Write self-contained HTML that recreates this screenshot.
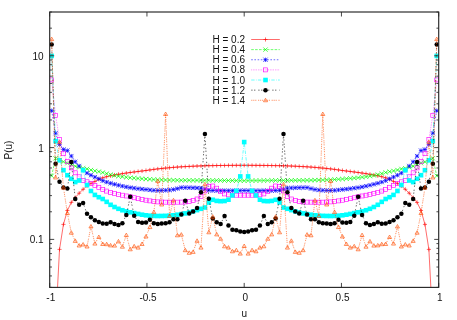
<!DOCTYPE html>
<html><head><meta charset="utf-8"><title>P(u)</title>
<style>html,body{margin:0;padding:0;background:#fff;overflow:hidden}body{width:457px;height:320px;font-family:"Liberation Sans",sans-serif}svg{display:block;will-change:transform}</style></head>
<body>
<svg width="457" height="320" viewBox="0 0 457 320">
<rect width="457" height="320" fill="#fff"/>
<defs><clipPath id="c"><rect x="49.7" y="12.0" width="389.0" height="275.4"/></clipPath></defs>
<g clip-path="url(#c)">
<path d="M55.59 325.00L59.52 249.40L63.45 224.40L67.38 210.50L71.31 202.40L75.24 197.60L79.17 193.20L83.10 189.30L87.03 186.00L90.96 183.40L94.89 181.40L98.82 179.40L102.75 177.80L106.67 176.69L110.60 175.79L114.53 175.00L118.46 174.29L122.39 173.65L126.32 173.06L130.25 172.50L134.18 171.97L138.11 171.48L142.04 171.00L145.97 170.50L149.90 169.95L153.83 169.39L157.76 168.90L161.68 168.49L165.61 168.10L169.54 167.73L173.47 167.39L177.40 167.09L181.33 166.82L185.26 166.60L189.19 166.41L193.12 166.23L197.05 166.06L200.98 165.92L204.91 165.79L208.84 165.68L212.77 165.60L216.69 165.54L220.62 165.48L224.55 165.44L228.48 165.40L232.41 165.37L236.34 165.34L240.27 165.32L244.20 165.30L248.13 165.32L252.06 165.34L255.99 165.37L259.92 165.40L263.85 165.44L267.78 165.48L271.71 165.54L275.63 165.60L279.56 165.68L283.49 165.79L287.42 165.92L291.35 166.06L295.28 166.23L299.21 166.41L303.14 166.60L307.07 166.82L311.00 167.09L314.93 167.39L318.86 167.73L322.79 168.10L326.72 168.49L330.64 168.90L334.57 169.39L338.50 169.95L342.43 170.50L346.36 171.00L350.29 171.48L354.22 171.97L358.15 172.50L362.08 173.06L366.01 173.65L369.94 174.29L373.87 175.00L377.80 175.79L381.73 176.69L385.65 177.80L389.58 179.40L393.51 181.40L397.44 183.40L401.37 186.00L405.30 189.30L409.23 193.20L413.16 197.60L417.09 202.40L421.02 210.50L424.95 224.40L428.88 249.40L432.81 325.00" fill="none" stroke="#ff0000" stroke-width="0.58"/>
<path d="M57.47 249.40H61.57M59.52 247.35V251.45" stroke="#ff0000" stroke-width="0.6" fill="none"/>
<path d="M61.40 224.40H65.50M63.45 222.35V226.45" stroke="#ff0000" stroke-width="0.6" fill="none"/>
<path d="M65.33 210.50H69.43M67.38 208.45V212.55" stroke="#ff0000" stroke-width="0.6" fill="none"/>
<path d="M69.26 202.40H73.36M71.31 200.35V204.45" stroke="#ff0000" stroke-width="0.6" fill="none"/>
<path d="M73.19 197.60H77.29M75.24 195.55V199.65" stroke="#ff0000" stroke-width="0.6" fill="none"/>
<path d="M77.12 193.20H81.22M79.17 191.15V195.25" stroke="#ff0000" stroke-width="0.6" fill="none"/>
<path d="M81.05 189.30H85.15M83.10 187.25V191.35" stroke="#ff0000" stroke-width="0.6" fill="none"/>
<path d="M84.98 186.00H89.08M87.03 183.95V188.05" stroke="#ff0000" stroke-width="0.6" fill="none"/>
<path d="M88.91 183.40H93.01M90.96 181.35V185.45" stroke="#ff0000" stroke-width="0.6" fill="none"/>
<path d="M92.84 181.40H96.94M94.89 179.35V183.45" stroke="#ff0000" stroke-width="0.6" fill="none"/>
<path d="M96.77 179.40H100.87M98.82 177.35V181.45" stroke="#ff0000" stroke-width="0.6" fill="none"/>
<path d="M100.70 177.80H104.80M102.75 175.75V179.85" stroke="#ff0000" stroke-width="0.6" fill="none"/>
<path d="M104.62 176.69H108.72M106.67 174.64V178.74" stroke="#ff0000" stroke-width="0.6" fill="none"/>
<path d="M108.55 175.79H112.65M110.60 173.74V177.84" stroke="#ff0000" stroke-width="0.6" fill="none"/>
<path d="M112.48 175.00H116.58M114.53 172.95V177.05" stroke="#ff0000" stroke-width="0.6" fill="none"/>
<path d="M116.41 174.29H120.51M118.46 172.24V176.34" stroke="#ff0000" stroke-width="0.6" fill="none"/>
<path d="M120.34 173.65H124.44M122.39 171.60V175.70" stroke="#ff0000" stroke-width="0.6" fill="none"/>
<path d="M124.27 173.06H128.37M126.32 171.01V175.11" stroke="#ff0000" stroke-width="0.6" fill="none"/>
<path d="M128.20 172.50H132.30M130.25 170.45V174.55" stroke="#ff0000" stroke-width="0.6" fill="none"/>
<path d="M132.13 171.97H136.23M134.18 169.92V174.02" stroke="#ff0000" stroke-width="0.6" fill="none"/>
<path d="M136.06 171.48H140.16M138.11 169.43V173.53" stroke="#ff0000" stroke-width="0.6" fill="none"/>
<path d="M139.99 171.00H144.09M142.04 168.95V173.05" stroke="#ff0000" stroke-width="0.6" fill="none"/>
<path d="M143.92 170.50H148.02M145.97 168.45V172.55" stroke="#ff0000" stroke-width="0.6" fill="none"/>
<path d="M147.85 169.95H151.95M149.90 167.90V172.00" stroke="#ff0000" stroke-width="0.6" fill="none"/>
<path d="M151.78 169.39H155.88M153.83 167.34V171.44" stroke="#ff0000" stroke-width="0.6" fill="none"/>
<path d="M155.71 168.90H159.81M157.76 166.85V170.95" stroke="#ff0000" stroke-width="0.6" fill="none"/>
<path d="M159.63 168.49H163.73M161.68 166.44V170.54" stroke="#ff0000" stroke-width="0.6" fill="none"/>
<path d="M163.56 168.10H167.66M165.61 166.05V170.15" stroke="#ff0000" stroke-width="0.6" fill="none"/>
<path d="M167.49 167.73H171.59M169.54 165.68V169.78" stroke="#ff0000" stroke-width="0.6" fill="none"/>
<path d="M171.42 167.39H175.52M173.47 165.34V169.44" stroke="#ff0000" stroke-width="0.6" fill="none"/>
<path d="M175.35 167.09H179.45M177.40 165.04V169.14" stroke="#ff0000" stroke-width="0.6" fill="none"/>
<path d="M179.28 166.82H183.38M181.33 164.77V168.87" stroke="#ff0000" stroke-width="0.6" fill="none"/>
<path d="M183.21 166.60H187.31M185.26 164.55V168.65" stroke="#ff0000" stroke-width="0.6" fill="none"/>
<path d="M187.14 166.41H191.24M189.19 164.36V168.46" stroke="#ff0000" stroke-width="0.6" fill="none"/>
<path d="M191.07 166.23H195.17M193.12 164.18V168.28" stroke="#ff0000" stroke-width="0.6" fill="none"/>
<path d="M195.00 166.06H199.10M197.05 164.01V168.11" stroke="#ff0000" stroke-width="0.6" fill="none"/>
<path d="M198.93 165.92H203.03M200.98 163.87V167.97" stroke="#ff0000" stroke-width="0.6" fill="none"/>
<path d="M202.86 165.79H206.96M204.91 163.74V167.84" stroke="#ff0000" stroke-width="0.6" fill="none"/>
<path d="M206.79 165.68H210.89M208.84 163.63V167.73" stroke="#ff0000" stroke-width="0.6" fill="none"/>
<path d="M210.72 165.60H214.82M212.77 163.55V167.65" stroke="#ff0000" stroke-width="0.6" fill="none"/>
<path d="M214.64 165.54H218.74M216.69 163.49V167.59" stroke="#ff0000" stroke-width="0.6" fill="none"/>
<path d="M218.57 165.48H222.67M220.62 163.43V167.53" stroke="#ff0000" stroke-width="0.6" fill="none"/>
<path d="M222.50 165.44H226.60M224.55 163.39V167.49" stroke="#ff0000" stroke-width="0.6" fill="none"/>
<path d="M226.43 165.40H230.53M228.48 163.35V167.45" stroke="#ff0000" stroke-width="0.6" fill="none"/>
<path d="M230.36 165.37H234.46M232.41 163.32V167.42" stroke="#ff0000" stroke-width="0.6" fill="none"/>
<path d="M234.29 165.34H238.39M236.34 163.29V167.39" stroke="#ff0000" stroke-width="0.6" fill="none"/>
<path d="M238.22 165.32H242.32M240.27 163.27V167.37" stroke="#ff0000" stroke-width="0.6" fill="none"/>
<path d="M242.15 165.30H246.25M244.20 163.25V167.35" stroke="#ff0000" stroke-width="0.6" fill="none"/>
<path d="M246.08 165.32H250.18M248.13 163.27V167.37" stroke="#ff0000" stroke-width="0.6" fill="none"/>
<path d="M250.01 165.34H254.11M252.06 163.29V167.39" stroke="#ff0000" stroke-width="0.6" fill="none"/>
<path d="M253.94 165.37H258.04M255.99 163.32V167.42" stroke="#ff0000" stroke-width="0.6" fill="none"/>
<path d="M257.87 165.40H261.97M259.92 163.35V167.45" stroke="#ff0000" stroke-width="0.6" fill="none"/>
<path d="M261.80 165.44H265.90M263.85 163.39V167.49" stroke="#ff0000" stroke-width="0.6" fill="none"/>
<path d="M265.73 165.48H269.83M267.78 163.43V167.53" stroke="#ff0000" stroke-width="0.6" fill="none"/>
<path d="M269.66 165.54H273.76M271.71 163.49V167.59" stroke="#ff0000" stroke-width="0.6" fill="none"/>
<path d="M273.58 165.60H277.68M275.63 163.55V167.65" stroke="#ff0000" stroke-width="0.6" fill="none"/>
<path d="M277.51 165.68H281.61M279.56 163.63V167.73" stroke="#ff0000" stroke-width="0.6" fill="none"/>
<path d="M281.44 165.79H285.54M283.49 163.74V167.84" stroke="#ff0000" stroke-width="0.6" fill="none"/>
<path d="M285.37 165.92H289.47M287.42 163.87V167.97" stroke="#ff0000" stroke-width="0.6" fill="none"/>
<path d="M289.30 166.06H293.40M291.35 164.01V168.11" stroke="#ff0000" stroke-width="0.6" fill="none"/>
<path d="M293.23 166.23H297.33M295.28 164.18V168.28" stroke="#ff0000" stroke-width="0.6" fill="none"/>
<path d="M297.16 166.41H301.26M299.21 164.36V168.46" stroke="#ff0000" stroke-width="0.6" fill="none"/>
<path d="M301.09 166.60H305.19M303.14 164.55V168.65" stroke="#ff0000" stroke-width="0.6" fill="none"/>
<path d="M305.02 166.82H309.12M307.07 164.77V168.87" stroke="#ff0000" stroke-width="0.6" fill="none"/>
<path d="M308.95 167.09H313.05M311.00 165.04V169.14" stroke="#ff0000" stroke-width="0.6" fill="none"/>
<path d="M312.88 167.39H316.98M314.93 165.34V169.44" stroke="#ff0000" stroke-width="0.6" fill="none"/>
<path d="M316.81 167.73H320.91M318.86 165.68V169.78" stroke="#ff0000" stroke-width="0.6" fill="none"/>
<path d="M320.74 168.10H324.84M322.79 166.05V170.15" stroke="#ff0000" stroke-width="0.6" fill="none"/>
<path d="M324.67 168.49H328.77M326.72 166.44V170.54" stroke="#ff0000" stroke-width="0.6" fill="none"/>
<path d="M328.59 168.90H332.69M330.64 166.85V170.95" stroke="#ff0000" stroke-width="0.6" fill="none"/>
<path d="M332.52 169.39H336.62M334.57 167.34V171.44" stroke="#ff0000" stroke-width="0.6" fill="none"/>
<path d="M336.45 169.95H340.55M338.50 167.90V172.00" stroke="#ff0000" stroke-width="0.6" fill="none"/>
<path d="M340.38 170.50H344.48M342.43 168.45V172.55" stroke="#ff0000" stroke-width="0.6" fill="none"/>
<path d="M344.31 171.00H348.41M346.36 168.95V173.05" stroke="#ff0000" stroke-width="0.6" fill="none"/>
<path d="M348.24 171.48H352.34M350.29 169.43V173.53" stroke="#ff0000" stroke-width="0.6" fill="none"/>
<path d="M352.17 171.97H356.27M354.22 169.92V174.02" stroke="#ff0000" stroke-width="0.6" fill="none"/>
<path d="M356.10 172.50H360.20M358.15 170.45V174.55" stroke="#ff0000" stroke-width="0.6" fill="none"/>
<path d="M360.03 173.06H364.13M362.08 171.01V175.11" stroke="#ff0000" stroke-width="0.6" fill="none"/>
<path d="M363.96 173.65H368.06M366.01 171.60V175.70" stroke="#ff0000" stroke-width="0.6" fill="none"/>
<path d="M367.89 174.29H371.99M369.94 172.24V176.34" stroke="#ff0000" stroke-width="0.6" fill="none"/>
<path d="M371.82 175.00H375.92M373.87 172.95V177.05" stroke="#ff0000" stroke-width="0.6" fill="none"/>
<path d="M375.75 175.79H379.85M377.80 173.74V177.84" stroke="#ff0000" stroke-width="0.6" fill="none"/>
<path d="M379.68 176.69H383.78M381.73 174.64V178.74" stroke="#ff0000" stroke-width="0.6" fill="none"/>
<path d="M383.60 177.80H387.70M385.65 175.75V179.85" stroke="#ff0000" stroke-width="0.6" fill="none"/>
<path d="M387.53 179.40H391.63M389.58 177.35V181.45" stroke="#ff0000" stroke-width="0.6" fill="none"/>
<path d="M391.46 181.40H395.56M393.51 179.35V183.45" stroke="#ff0000" stroke-width="0.6" fill="none"/>
<path d="M395.39 183.40H399.49M397.44 181.35V185.45" stroke="#ff0000" stroke-width="0.6" fill="none"/>
<path d="M399.32 186.00H403.42M401.37 183.95V188.05" stroke="#ff0000" stroke-width="0.6" fill="none"/>
<path d="M403.25 189.30H407.35M405.30 187.25V191.35" stroke="#ff0000" stroke-width="0.6" fill="none"/>
<path d="M407.18 193.20H411.28M409.23 191.15V195.25" stroke="#ff0000" stroke-width="0.6" fill="none"/>
<path d="M411.11 197.60H415.21M413.16 195.55V199.65" stroke="#ff0000" stroke-width="0.6" fill="none"/>
<path d="M415.04 202.40H419.14M417.09 200.35V204.45" stroke="#ff0000" stroke-width="0.6" fill="none"/>
<path d="M418.97 210.50H423.07M421.02 208.45V212.55" stroke="#ff0000" stroke-width="0.6" fill="none"/>
<path d="M422.90 224.40H427.00M424.95 222.35V226.45" stroke="#ff0000" stroke-width="0.6" fill="none"/>
<path d="M426.83 249.40H430.93M428.88 247.35V251.45" stroke="#ff0000" stroke-width="0.6" fill="none"/>
<path d="M51.66 175.80L55.59 158.30L59.52 160.00L63.45 161.80L67.38 163.20L71.31 164.40L75.24 166.20L79.17 167.40L83.10 168.30L87.03 168.90L90.96 170.00L94.89 170.90L98.82 171.60L102.75 172.50L106.67 173.54L110.60 174.61L114.53 175.50L118.46 176.17L122.39 176.76L126.32 177.26L130.25 177.70L134.18 178.08L138.11 178.42L142.04 178.72L145.97 179.00L149.90 179.27L153.83 179.52L157.76 179.70L161.68 179.83L165.61 179.95L169.54 180.05L173.47 180.14L177.40 180.21L181.33 180.27L185.26 180.30L189.19 180.32L193.12 180.34L197.05 180.35L200.98 180.36L204.91 180.37L208.84 180.38L212.77 180.40L216.69 180.42L220.62 180.45L224.55 180.48L228.48 180.52L232.41 180.56L236.34 180.60L240.27 180.65L244.20 180.70L248.13 180.65L252.06 180.60L255.99 180.56L259.92 180.52L263.85 180.48L267.78 180.45L271.71 180.42L275.63 180.40L279.56 180.38L283.49 180.37L287.42 180.36L291.35 180.35L295.28 180.34L299.21 180.32L303.14 180.30L307.07 180.27L311.00 180.21L314.93 180.14L318.86 180.05L322.79 179.95L326.72 179.83L330.64 179.70L334.57 179.52L338.50 179.27L342.43 179.00L346.36 178.72L350.29 178.42L354.22 178.08L358.15 177.70L362.08 177.26L366.01 176.76L369.94 176.17L373.87 175.50L377.80 174.61L381.73 173.54L385.65 172.50L389.58 171.60L393.51 170.90L397.44 170.00L401.37 168.90L405.30 168.30L409.23 167.40L413.16 166.20L417.09 164.40L421.02 163.20L424.95 161.80L428.88 160.00L432.81 158.30L436.74 175.80" fill="none" stroke="#00ff00" stroke-width="0.58" stroke-dasharray="2.6,1.3"/>
<path d="M49.51 173.65L53.81 177.95M49.51 177.95L53.81 173.65" stroke="#00ff00" stroke-width="0.68" fill="none"/>
<path d="M53.44 156.15L57.74 160.45M53.44 160.45L57.74 156.15" stroke="#00ff00" stroke-width="0.68" fill="none"/>
<path d="M57.37 157.85L61.67 162.15M57.37 162.15L61.67 157.85" stroke="#00ff00" stroke-width="0.68" fill="none"/>
<path d="M61.30 159.65L65.60 163.95M61.30 163.95L65.60 159.65" stroke="#00ff00" stroke-width="0.68" fill="none"/>
<path d="M65.23 161.05L69.53 165.35M65.23 165.35L69.53 161.05" stroke="#00ff00" stroke-width="0.68" fill="none"/>
<path d="M69.16 162.25L73.46 166.55M69.16 166.55L73.46 162.25" stroke="#00ff00" stroke-width="0.68" fill="none"/>
<path d="M73.09 164.05L77.39 168.35M73.09 168.35L77.39 164.05" stroke="#00ff00" stroke-width="0.68" fill="none"/>
<path d="M77.02 165.25L81.32 169.55M77.02 169.55L81.32 165.25" stroke="#00ff00" stroke-width="0.68" fill="none"/>
<path d="M80.95 166.15L85.25 170.45M80.95 170.45L85.25 166.15" stroke="#00ff00" stroke-width="0.68" fill="none"/>
<path d="M84.88 166.75L89.18 171.05M84.88 171.05L89.18 166.75" stroke="#00ff00" stroke-width="0.68" fill="none"/>
<path d="M88.81 167.85L93.11 172.15M88.81 172.15L93.11 167.85" stroke="#00ff00" stroke-width="0.68" fill="none"/>
<path d="M92.74 168.75L97.04 173.05M92.74 173.05L97.04 168.75" stroke="#00ff00" stroke-width="0.68" fill="none"/>
<path d="M96.67 169.45L100.97 173.75M96.67 173.75L100.97 169.45" stroke="#00ff00" stroke-width="0.68" fill="none"/>
<path d="M100.60 170.35L104.90 174.65M100.60 174.65L104.90 170.35" stroke="#00ff00" stroke-width="0.68" fill="none"/>
<path d="M104.52 171.39L108.82 175.69M104.52 175.69L108.82 171.39" stroke="#00ff00" stroke-width="0.68" fill="none"/>
<path d="M108.45 172.46L112.75 176.76M108.45 176.76L112.75 172.46" stroke="#00ff00" stroke-width="0.68" fill="none"/>
<path d="M112.38 173.35L116.68 177.65M112.38 177.65L116.68 173.35" stroke="#00ff00" stroke-width="0.68" fill="none"/>
<path d="M116.31 174.02L120.61 178.32M116.31 178.32L120.61 174.02" stroke="#00ff00" stroke-width="0.68" fill="none"/>
<path d="M120.24 174.61L124.54 178.91M120.24 178.91L124.54 174.61" stroke="#00ff00" stroke-width="0.68" fill="none"/>
<path d="M124.17 175.11L128.47 179.41M124.17 179.41L128.47 175.11" stroke="#00ff00" stroke-width="0.68" fill="none"/>
<path d="M128.10 175.55L132.40 179.85M128.10 179.85L132.40 175.55" stroke="#00ff00" stroke-width="0.68" fill="none"/>
<path d="M132.03 175.93L136.33 180.23M132.03 180.23L136.33 175.93" stroke="#00ff00" stroke-width="0.68" fill="none"/>
<path d="M135.96 176.27L140.26 180.57M135.96 180.57L140.26 176.27" stroke="#00ff00" stroke-width="0.68" fill="none"/>
<path d="M139.89 176.57L144.19 180.87M139.89 180.87L144.19 176.57" stroke="#00ff00" stroke-width="0.68" fill="none"/>
<path d="M143.82 176.85L148.12 181.15M143.82 181.15L148.12 176.85" stroke="#00ff00" stroke-width="0.68" fill="none"/>
<path d="M147.75 177.12L152.05 181.42M147.75 181.42L152.05 177.12" stroke="#00ff00" stroke-width="0.68" fill="none"/>
<path d="M151.68 177.37L155.98 181.67M151.68 181.67L155.98 177.37" stroke="#00ff00" stroke-width="0.68" fill="none"/>
<path d="M155.61 177.55L159.91 181.85M155.61 181.85L159.91 177.55" stroke="#00ff00" stroke-width="0.68" fill="none"/>
<path d="M159.53 177.68L163.83 181.98M159.53 181.98L163.83 177.68" stroke="#00ff00" stroke-width="0.68" fill="none"/>
<path d="M163.46 177.80L167.76 182.10M163.46 182.10L167.76 177.80" stroke="#00ff00" stroke-width="0.68" fill="none"/>
<path d="M167.39 177.90L171.69 182.20M167.39 182.20L171.69 177.90" stroke="#00ff00" stroke-width="0.68" fill="none"/>
<path d="M171.32 177.99L175.62 182.29M171.32 182.29L175.62 177.99" stroke="#00ff00" stroke-width="0.68" fill="none"/>
<path d="M175.25 178.06L179.55 182.36M175.25 182.36L179.55 178.06" stroke="#00ff00" stroke-width="0.68" fill="none"/>
<path d="M179.18 178.12L183.48 182.42M179.18 182.42L183.48 178.12" stroke="#00ff00" stroke-width="0.68" fill="none"/>
<path d="M183.11 178.15L187.41 182.45M183.11 182.45L187.41 178.15" stroke="#00ff00" stroke-width="0.68" fill="none"/>
<path d="M187.04 178.17L191.34 182.47M187.04 182.47L191.34 178.17" stroke="#00ff00" stroke-width="0.68" fill="none"/>
<path d="M190.97 178.19L195.27 182.49M190.97 182.49L195.27 178.19" stroke="#00ff00" stroke-width="0.68" fill="none"/>
<path d="M194.90 178.20L199.20 182.50M194.90 182.50L199.20 178.20" stroke="#00ff00" stroke-width="0.68" fill="none"/>
<path d="M198.83 178.21L203.13 182.51M198.83 182.51L203.13 178.21" stroke="#00ff00" stroke-width="0.68" fill="none"/>
<path d="M202.76 178.22L207.06 182.52M202.76 182.52L207.06 178.22" stroke="#00ff00" stroke-width="0.68" fill="none"/>
<path d="M206.69 178.23L210.99 182.53M206.69 182.53L210.99 178.23" stroke="#00ff00" stroke-width="0.68" fill="none"/>
<path d="M210.62 178.25L214.92 182.55M210.62 182.55L214.92 178.25" stroke="#00ff00" stroke-width="0.68" fill="none"/>
<path d="M214.54 178.27L218.84 182.57M214.54 182.57L218.84 178.27" stroke="#00ff00" stroke-width="0.68" fill="none"/>
<path d="M218.47 178.30L222.77 182.60M218.47 182.60L222.77 178.30" stroke="#00ff00" stroke-width="0.68" fill="none"/>
<path d="M222.40 178.33L226.70 182.63M222.40 182.63L226.70 178.33" stroke="#00ff00" stroke-width="0.68" fill="none"/>
<path d="M226.33 178.37L230.63 182.67M226.33 182.67L230.63 178.37" stroke="#00ff00" stroke-width="0.68" fill="none"/>
<path d="M230.26 178.41L234.56 182.71M230.26 182.71L234.56 178.41" stroke="#00ff00" stroke-width="0.68" fill="none"/>
<path d="M234.19 178.45L238.49 182.75M234.19 182.75L238.49 178.45" stroke="#00ff00" stroke-width="0.68" fill="none"/>
<path d="M238.12 178.50L242.42 182.80M238.12 182.80L242.42 178.50" stroke="#00ff00" stroke-width="0.68" fill="none"/>
<path d="M242.05 178.55L246.35 182.85M242.05 182.85L246.35 178.55" stroke="#00ff00" stroke-width="0.68" fill="none"/>
<path d="M245.98 178.50L250.28 182.80M245.98 182.80L250.28 178.50" stroke="#00ff00" stroke-width="0.68" fill="none"/>
<path d="M249.91 178.45L254.21 182.75M249.91 182.75L254.21 178.45" stroke="#00ff00" stroke-width="0.68" fill="none"/>
<path d="M253.84 178.41L258.14 182.71M253.84 182.71L258.14 178.41" stroke="#00ff00" stroke-width="0.68" fill="none"/>
<path d="M257.77 178.37L262.07 182.67M257.77 182.67L262.07 178.37" stroke="#00ff00" stroke-width="0.68" fill="none"/>
<path d="M261.70 178.33L266.00 182.63M261.70 182.63L266.00 178.33" stroke="#00ff00" stroke-width="0.68" fill="none"/>
<path d="M265.63 178.30L269.93 182.60M265.63 182.60L269.93 178.30" stroke="#00ff00" stroke-width="0.68" fill="none"/>
<path d="M269.56 178.27L273.86 182.57M269.56 182.57L273.86 178.27" stroke="#00ff00" stroke-width="0.68" fill="none"/>
<path d="M273.48 178.25L277.78 182.55M273.48 182.55L277.78 178.25" stroke="#00ff00" stroke-width="0.68" fill="none"/>
<path d="M277.41 178.23L281.71 182.53M277.41 182.53L281.71 178.23" stroke="#00ff00" stroke-width="0.68" fill="none"/>
<path d="M281.34 178.22L285.64 182.52M281.34 182.52L285.64 178.22" stroke="#00ff00" stroke-width="0.68" fill="none"/>
<path d="M285.27 178.21L289.57 182.51M285.27 182.51L289.57 178.21" stroke="#00ff00" stroke-width="0.68" fill="none"/>
<path d="M289.20 178.20L293.50 182.50M289.20 182.50L293.50 178.20" stroke="#00ff00" stroke-width="0.68" fill="none"/>
<path d="M293.13 178.19L297.43 182.49M293.13 182.49L297.43 178.19" stroke="#00ff00" stroke-width="0.68" fill="none"/>
<path d="M297.06 178.17L301.36 182.47M297.06 182.47L301.36 178.17" stroke="#00ff00" stroke-width="0.68" fill="none"/>
<path d="M300.99 178.15L305.29 182.45M300.99 182.45L305.29 178.15" stroke="#00ff00" stroke-width="0.68" fill="none"/>
<path d="M304.92 178.12L309.22 182.42M304.92 182.42L309.22 178.12" stroke="#00ff00" stroke-width="0.68" fill="none"/>
<path d="M308.85 178.06L313.15 182.36M308.85 182.36L313.15 178.06" stroke="#00ff00" stroke-width="0.68" fill="none"/>
<path d="M312.78 177.99L317.08 182.29M312.78 182.29L317.08 177.99" stroke="#00ff00" stroke-width="0.68" fill="none"/>
<path d="M316.71 177.90L321.01 182.20M316.71 182.20L321.01 177.90" stroke="#00ff00" stroke-width="0.68" fill="none"/>
<path d="M320.64 177.80L324.94 182.10M320.64 182.10L324.94 177.80" stroke="#00ff00" stroke-width="0.68" fill="none"/>
<path d="M324.57 177.68L328.87 181.98M324.57 181.98L328.87 177.68" stroke="#00ff00" stroke-width="0.68" fill="none"/>
<path d="M328.49 177.55L332.79 181.85M328.49 181.85L332.79 177.55" stroke="#00ff00" stroke-width="0.68" fill="none"/>
<path d="M332.42 177.37L336.72 181.67M332.42 181.67L336.72 177.37" stroke="#00ff00" stroke-width="0.68" fill="none"/>
<path d="M336.35 177.12L340.65 181.42M336.35 181.42L340.65 177.12" stroke="#00ff00" stroke-width="0.68" fill="none"/>
<path d="M340.28 176.85L344.58 181.15M340.28 181.15L344.58 176.85" stroke="#00ff00" stroke-width="0.68" fill="none"/>
<path d="M344.21 176.57L348.51 180.87M344.21 180.87L348.51 176.57" stroke="#00ff00" stroke-width="0.68" fill="none"/>
<path d="M348.14 176.27L352.44 180.57M348.14 180.57L352.44 176.27" stroke="#00ff00" stroke-width="0.68" fill="none"/>
<path d="M352.07 175.93L356.37 180.23M352.07 180.23L356.37 175.93" stroke="#00ff00" stroke-width="0.68" fill="none"/>
<path d="M356.00 175.55L360.30 179.85M356.00 179.85L360.30 175.55" stroke="#00ff00" stroke-width="0.68" fill="none"/>
<path d="M359.93 175.11L364.23 179.41M359.93 179.41L364.23 175.11" stroke="#00ff00" stroke-width="0.68" fill="none"/>
<path d="M363.86 174.61L368.16 178.91M363.86 178.91L368.16 174.61" stroke="#00ff00" stroke-width="0.68" fill="none"/>
<path d="M367.79 174.02L372.09 178.32M367.79 178.32L372.09 174.02" stroke="#00ff00" stroke-width="0.68" fill="none"/>
<path d="M371.72 173.35L376.02 177.65M371.72 177.65L376.02 173.35" stroke="#00ff00" stroke-width="0.68" fill="none"/>
<path d="M375.65 172.46L379.95 176.76M375.65 176.76L379.95 172.46" stroke="#00ff00" stroke-width="0.68" fill="none"/>
<path d="M379.58 171.39L383.88 175.69M379.58 175.69L383.88 171.39" stroke="#00ff00" stroke-width="0.68" fill="none"/>
<path d="M383.50 170.35L387.80 174.65M383.50 174.65L387.80 170.35" stroke="#00ff00" stroke-width="0.68" fill="none"/>
<path d="M387.43 169.45L391.73 173.75M387.43 173.75L391.73 169.45" stroke="#00ff00" stroke-width="0.68" fill="none"/>
<path d="M391.36 168.75L395.66 173.05M391.36 173.05L395.66 168.75" stroke="#00ff00" stroke-width="0.68" fill="none"/>
<path d="M395.29 167.85L399.59 172.15M395.29 172.15L399.59 167.85" stroke="#00ff00" stroke-width="0.68" fill="none"/>
<path d="M399.22 166.75L403.52 171.05M399.22 171.05L403.52 166.75" stroke="#00ff00" stroke-width="0.68" fill="none"/>
<path d="M403.15 166.15L407.45 170.45M403.15 170.45L407.45 166.15" stroke="#00ff00" stroke-width="0.68" fill="none"/>
<path d="M407.08 165.25L411.38 169.55M407.08 169.55L411.38 165.25" stroke="#00ff00" stroke-width="0.68" fill="none"/>
<path d="M411.01 164.05L415.31 168.35M411.01 168.35L415.31 164.05" stroke="#00ff00" stroke-width="0.68" fill="none"/>
<path d="M414.94 162.25L419.24 166.55M414.94 166.55L419.24 162.25" stroke="#00ff00" stroke-width="0.68" fill="none"/>
<path d="M418.87 161.05L423.17 165.35M418.87 165.35L423.17 161.05" stroke="#00ff00" stroke-width="0.68" fill="none"/>
<path d="M422.80 159.65L427.10 163.95M422.80 163.95L427.10 159.65" stroke="#00ff00" stroke-width="0.68" fill="none"/>
<path d="M426.73 157.85L431.03 162.15M426.73 162.15L431.03 157.85" stroke="#00ff00" stroke-width="0.68" fill="none"/>
<path d="M430.66 156.15L434.96 160.45M430.66 160.45L434.96 156.15" stroke="#00ff00" stroke-width="0.68" fill="none"/>
<path d="M434.59 173.65L438.89 177.95M434.59 177.95L438.89 173.65" stroke="#00ff00" stroke-width="0.68" fill="none"/>
<path d="M51.66 110.70L55.59 133.20L59.52 144.50L63.45 149.50L67.38 150.60L71.31 156.10L75.24 161.80L79.17 166.00L83.10 170.00L87.03 173.10L90.96 175.20L94.89 177.10L98.82 178.80L102.75 180.70L106.67 182.09L110.60 183.27L114.53 184.30L118.46 185.26L122.39 186.14L126.32 186.93L130.25 187.60L134.18 188.16L138.11 188.66L142.04 189.10L145.97 189.50L149.90 189.93L153.83 190.33L157.76 190.50L161.68 190.44L165.61 190.30L169.54 190.00L173.47 189.50L177.40 188.60L181.33 187.60L185.26 187.60L189.19 187.67L193.12 187.80L197.05 187.94L200.98 188.20L204.91 189.20L208.84 190.20L212.77 190.50L216.69 190.59L220.62 190.65L224.55 190.69L228.48 190.70L232.41 190.69L236.34 190.65L240.27 190.59L244.20 190.50L248.13 190.59L252.06 190.65L255.99 190.69L259.92 190.70L263.85 190.69L267.78 190.65L271.71 190.59L275.63 190.50L279.56 190.20L283.49 189.20L287.42 188.20L291.35 187.94L295.28 187.80L299.21 187.67L303.14 187.60L307.07 187.60L311.00 188.60L314.93 189.50L318.86 190.00L322.79 190.30L326.72 190.44L330.64 190.50L334.57 190.33L338.50 189.93L342.43 189.50L346.36 189.10L350.29 188.66L354.22 188.16L358.15 187.60L362.08 186.93L366.01 186.14L369.94 185.26L373.87 184.30L377.80 183.27L381.73 182.09L385.65 180.70L389.58 178.80L393.51 177.10L397.44 175.20L401.37 173.10L405.30 170.00L409.23 166.00L413.16 161.80L417.09 156.10L421.02 150.60L424.95 149.50L428.88 144.50L432.81 133.20L436.74 110.70" fill="none" stroke="#0000ff" stroke-width="0.58" stroke-dasharray="1.6,1.6"/>
<path d="M49.51 108.55L53.81 112.85M49.51 112.85L53.81 108.55M49.51 110.70H53.81M51.66 108.55V112.85" stroke="#0000ff" stroke-width="0.7" fill="none"/>
<path d="M53.44 131.05L57.74 135.35M53.44 135.35L57.74 131.05M53.44 133.20H57.74M55.59 131.05V135.35" stroke="#0000ff" stroke-width="0.7" fill="none"/>
<path d="M57.37 142.35L61.67 146.65M57.37 146.65L61.67 142.35M57.37 144.50H61.67M59.52 142.35V146.65" stroke="#0000ff" stroke-width="0.7" fill="none"/>
<path d="M61.30 147.35L65.60 151.65M61.30 151.65L65.60 147.35M61.30 149.50H65.60M63.45 147.35V151.65" stroke="#0000ff" stroke-width="0.7" fill="none"/>
<path d="M65.23 148.45L69.53 152.75M65.23 152.75L69.53 148.45M65.23 150.60H69.53M67.38 148.45V152.75" stroke="#0000ff" stroke-width="0.7" fill="none"/>
<path d="M69.16 153.95L73.46 158.25M69.16 158.25L73.46 153.95M69.16 156.10H73.46M71.31 153.95V158.25" stroke="#0000ff" stroke-width="0.7" fill="none"/>
<path d="M73.09 159.65L77.39 163.95M73.09 163.95L77.39 159.65M73.09 161.80H77.39M75.24 159.65V163.95" stroke="#0000ff" stroke-width="0.7" fill="none"/>
<path d="M77.02 163.85L81.32 168.15M77.02 168.15L81.32 163.85M77.02 166.00H81.32M79.17 163.85V168.15" stroke="#0000ff" stroke-width="0.7" fill="none"/>
<path d="M80.95 167.85L85.25 172.15M80.95 172.15L85.25 167.85M80.95 170.00H85.25M83.10 167.85V172.15" stroke="#0000ff" stroke-width="0.7" fill="none"/>
<path d="M84.88 170.95L89.18 175.25M84.88 175.25L89.18 170.95M84.88 173.10H89.18M87.03 170.95V175.25" stroke="#0000ff" stroke-width="0.7" fill="none"/>
<path d="M88.81 173.05L93.11 177.35M88.81 177.35L93.11 173.05M88.81 175.20H93.11M90.96 173.05V177.35" stroke="#0000ff" stroke-width="0.7" fill="none"/>
<path d="M92.74 174.95L97.04 179.25M92.74 179.25L97.04 174.95M92.74 177.10H97.04M94.89 174.95V179.25" stroke="#0000ff" stroke-width="0.7" fill="none"/>
<path d="M96.67 176.65L100.97 180.95M96.67 180.95L100.97 176.65M96.67 178.80H100.97M98.82 176.65V180.95" stroke="#0000ff" stroke-width="0.7" fill="none"/>
<path d="M100.60 178.55L104.90 182.85M100.60 182.85L104.90 178.55M100.60 180.70H104.90M102.75 178.55V182.85" stroke="#0000ff" stroke-width="0.7" fill="none"/>
<path d="M104.52 179.94L108.82 184.24M104.52 184.24L108.82 179.94M104.52 182.09H108.82M106.67 179.94V184.24" stroke="#0000ff" stroke-width="0.7" fill="none"/>
<path d="M108.45 181.12L112.75 185.42M108.45 185.42L112.75 181.12M108.45 183.27H112.75M110.60 181.12V185.42" stroke="#0000ff" stroke-width="0.7" fill="none"/>
<path d="M112.38 182.15L116.68 186.45M112.38 186.45L116.68 182.15M112.38 184.30H116.68M114.53 182.15V186.45" stroke="#0000ff" stroke-width="0.7" fill="none"/>
<path d="M116.31 183.11L120.61 187.41M116.31 187.41L120.61 183.11M116.31 185.26H120.61M118.46 183.11V187.41" stroke="#0000ff" stroke-width="0.7" fill="none"/>
<path d="M120.24 183.99L124.54 188.29M120.24 188.29L124.54 183.99M120.24 186.14H124.54M122.39 183.99V188.29" stroke="#0000ff" stroke-width="0.7" fill="none"/>
<path d="M124.17 184.78L128.47 189.08M124.17 189.08L128.47 184.78M124.17 186.93H128.47M126.32 184.78V189.08" stroke="#0000ff" stroke-width="0.7" fill="none"/>
<path d="M128.10 185.45L132.40 189.75M128.10 189.75L132.40 185.45M128.10 187.60H132.40M130.25 185.45V189.75" stroke="#0000ff" stroke-width="0.7" fill="none"/>
<path d="M132.03 186.01L136.33 190.31M132.03 190.31L136.33 186.01M132.03 188.16H136.33M134.18 186.01V190.31" stroke="#0000ff" stroke-width="0.7" fill="none"/>
<path d="M135.96 186.51L140.26 190.81M135.96 190.81L140.26 186.51M135.96 188.66H140.26M138.11 186.51V190.81" stroke="#0000ff" stroke-width="0.7" fill="none"/>
<path d="M139.89 186.95L144.19 191.25M139.89 191.25L144.19 186.95M139.89 189.10H144.19M142.04 186.95V191.25" stroke="#0000ff" stroke-width="0.7" fill="none"/>
<path d="M143.82 187.35L148.12 191.65M143.82 191.65L148.12 187.35M143.82 189.50H148.12M145.97 187.35V191.65" stroke="#0000ff" stroke-width="0.7" fill="none"/>
<path d="M147.75 187.78L152.05 192.08M147.75 192.08L152.05 187.78M147.75 189.93H152.05M149.90 187.78V192.08" stroke="#0000ff" stroke-width="0.7" fill="none"/>
<path d="M151.68 188.18L155.98 192.48M151.68 192.48L155.98 188.18M151.68 190.33H155.98M153.83 188.18V192.48" stroke="#0000ff" stroke-width="0.7" fill="none"/>
<path d="M155.61 188.35L159.91 192.65M155.61 192.65L159.91 188.35M155.61 190.50H159.91M157.76 188.35V192.65" stroke="#0000ff" stroke-width="0.7" fill="none"/>
<path d="M159.53 188.29L163.83 192.59M159.53 192.59L163.83 188.29M159.53 190.44H163.83M161.68 188.29V192.59" stroke="#0000ff" stroke-width="0.7" fill="none"/>
<path d="M163.46 188.15L167.76 192.45M163.46 192.45L167.76 188.15M163.46 190.30H167.76M165.61 188.15V192.45" stroke="#0000ff" stroke-width="0.7" fill="none"/>
<path d="M167.39 187.85L171.69 192.15M167.39 192.15L171.69 187.85M167.39 190.00H171.69M169.54 187.85V192.15" stroke="#0000ff" stroke-width="0.7" fill="none"/>
<path d="M171.32 187.35L175.62 191.65M171.32 191.65L175.62 187.35M171.32 189.50H175.62M173.47 187.35V191.65" stroke="#0000ff" stroke-width="0.7" fill="none"/>
<path d="M175.25 186.45L179.55 190.75M175.25 190.75L179.55 186.45M175.25 188.60H179.55M177.40 186.45V190.75" stroke="#0000ff" stroke-width="0.7" fill="none"/>
<path d="M179.18 185.45L183.48 189.75M179.18 189.75L183.48 185.45M179.18 187.60H183.48M181.33 185.45V189.75" stroke="#0000ff" stroke-width="0.7" fill="none"/>
<path d="M183.11 185.45L187.41 189.75M183.11 189.75L187.41 185.45M183.11 187.60H187.41M185.26 185.45V189.75" stroke="#0000ff" stroke-width="0.7" fill="none"/>
<path d="M187.04 185.52L191.34 189.82M187.04 189.82L191.34 185.52M187.04 187.67H191.34M189.19 185.52V189.82" stroke="#0000ff" stroke-width="0.7" fill="none"/>
<path d="M190.97 185.65L195.27 189.95M190.97 189.95L195.27 185.65M190.97 187.80H195.27M193.12 185.65V189.95" stroke="#0000ff" stroke-width="0.7" fill="none"/>
<path d="M194.90 185.79L199.20 190.09M194.90 190.09L199.20 185.79M194.90 187.94H199.20M197.05 185.79V190.09" stroke="#0000ff" stroke-width="0.7" fill="none"/>
<path d="M198.83 186.05L203.13 190.35M198.83 190.35L203.13 186.05M198.83 188.20H203.13M200.98 186.05V190.35" stroke="#0000ff" stroke-width="0.7" fill="none"/>
<path d="M202.76 187.05L207.06 191.35M202.76 191.35L207.06 187.05M202.76 189.20H207.06M204.91 187.05V191.35" stroke="#0000ff" stroke-width="0.7" fill="none"/>
<path d="M206.69 188.05L210.99 192.35M206.69 192.35L210.99 188.05M206.69 190.20H210.99M208.84 188.05V192.35" stroke="#0000ff" stroke-width="0.7" fill="none"/>
<path d="M210.62 188.35L214.92 192.65M210.62 192.65L214.92 188.35M210.62 190.50H214.92M212.77 188.35V192.65" stroke="#0000ff" stroke-width="0.7" fill="none"/>
<path d="M214.54 188.44L218.84 192.74M214.54 192.74L218.84 188.44M214.54 190.59H218.84M216.69 188.44V192.74" stroke="#0000ff" stroke-width="0.7" fill="none"/>
<path d="M218.47 188.50L222.77 192.80M218.47 192.80L222.77 188.50M218.47 190.65H222.77M220.62 188.50V192.80" stroke="#0000ff" stroke-width="0.7" fill="none"/>
<path d="M222.40 188.54L226.70 192.84M222.40 192.84L226.70 188.54M222.40 190.69H226.70M224.55 188.54V192.84" stroke="#0000ff" stroke-width="0.7" fill="none"/>
<path d="M226.33 188.55L230.63 192.85M226.33 192.85L230.63 188.55M226.33 190.70H230.63M228.48 188.55V192.85" stroke="#0000ff" stroke-width="0.7" fill="none"/>
<path d="M230.26 188.54L234.56 192.84M230.26 192.84L234.56 188.54M230.26 190.69H234.56M232.41 188.54V192.84" stroke="#0000ff" stroke-width="0.7" fill="none"/>
<path d="M234.19 188.50L238.49 192.80M234.19 192.80L238.49 188.50M234.19 190.65H238.49M236.34 188.50V192.80" stroke="#0000ff" stroke-width="0.7" fill="none"/>
<path d="M238.12 188.44L242.42 192.74M238.12 192.74L242.42 188.44M238.12 190.59H242.42M240.27 188.44V192.74" stroke="#0000ff" stroke-width="0.7" fill="none"/>
<path d="M242.05 188.35L246.35 192.65M242.05 192.65L246.35 188.35M242.05 190.50H246.35M244.20 188.35V192.65" stroke="#0000ff" stroke-width="0.7" fill="none"/>
<path d="M245.98 188.44L250.28 192.74M245.98 192.74L250.28 188.44M245.98 190.59H250.28M248.13 188.44V192.74" stroke="#0000ff" stroke-width="0.7" fill="none"/>
<path d="M249.91 188.50L254.21 192.80M249.91 192.80L254.21 188.50M249.91 190.65H254.21M252.06 188.50V192.80" stroke="#0000ff" stroke-width="0.7" fill="none"/>
<path d="M253.84 188.54L258.14 192.84M253.84 192.84L258.14 188.54M253.84 190.69H258.14M255.99 188.54V192.84" stroke="#0000ff" stroke-width="0.7" fill="none"/>
<path d="M257.77 188.55L262.07 192.85M257.77 192.85L262.07 188.55M257.77 190.70H262.07M259.92 188.55V192.85" stroke="#0000ff" stroke-width="0.7" fill="none"/>
<path d="M261.70 188.54L266.00 192.84M261.70 192.84L266.00 188.54M261.70 190.69H266.00M263.85 188.54V192.84" stroke="#0000ff" stroke-width="0.7" fill="none"/>
<path d="M265.63 188.50L269.93 192.80M265.63 192.80L269.93 188.50M265.63 190.65H269.93M267.78 188.50V192.80" stroke="#0000ff" stroke-width="0.7" fill="none"/>
<path d="M269.56 188.44L273.86 192.74M269.56 192.74L273.86 188.44M269.56 190.59H273.86M271.71 188.44V192.74" stroke="#0000ff" stroke-width="0.7" fill="none"/>
<path d="M273.48 188.35L277.78 192.65M273.48 192.65L277.78 188.35M273.48 190.50H277.78M275.63 188.35V192.65" stroke="#0000ff" stroke-width="0.7" fill="none"/>
<path d="M277.41 188.05L281.71 192.35M277.41 192.35L281.71 188.05M277.41 190.20H281.71M279.56 188.05V192.35" stroke="#0000ff" stroke-width="0.7" fill="none"/>
<path d="M281.34 187.05L285.64 191.35M281.34 191.35L285.64 187.05M281.34 189.20H285.64M283.49 187.05V191.35" stroke="#0000ff" stroke-width="0.7" fill="none"/>
<path d="M285.27 186.05L289.57 190.35M285.27 190.35L289.57 186.05M285.27 188.20H289.57M287.42 186.05V190.35" stroke="#0000ff" stroke-width="0.7" fill="none"/>
<path d="M289.20 185.79L293.50 190.09M289.20 190.09L293.50 185.79M289.20 187.94H293.50M291.35 185.79V190.09" stroke="#0000ff" stroke-width="0.7" fill="none"/>
<path d="M293.13 185.65L297.43 189.95M293.13 189.95L297.43 185.65M293.13 187.80H297.43M295.28 185.65V189.95" stroke="#0000ff" stroke-width="0.7" fill="none"/>
<path d="M297.06 185.52L301.36 189.82M297.06 189.82L301.36 185.52M297.06 187.67H301.36M299.21 185.52V189.82" stroke="#0000ff" stroke-width="0.7" fill="none"/>
<path d="M300.99 185.45L305.29 189.75M300.99 189.75L305.29 185.45M300.99 187.60H305.29M303.14 185.45V189.75" stroke="#0000ff" stroke-width="0.7" fill="none"/>
<path d="M304.92 185.45L309.22 189.75M304.92 189.75L309.22 185.45M304.92 187.60H309.22M307.07 185.45V189.75" stroke="#0000ff" stroke-width="0.7" fill="none"/>
<path d="M308.85 186.45L313.15 190.75M308.85 190.75L313.15 186.45M308.85 188.60H313.15M311.00 186.45V190.75" stroke="#0000ff" stroke-width="0.7" fill="none"/>
<path d="M312.78 187.35L317.08 191.65M312.78 191.65L317.08 187.35M312.78 189.50H317.08M314.93 187.35V191.65" stroke="#0000ff" stroke-width="0.7" fill="none"/>
<path d="M316.71 187.85L321.01 192.15M316.71 192.15L321.01 187.85M316.71 190.00H321.01M318.86 187.85V192.15" stroke="#0000ff" stroke-width="0.7" fill="none"/>
<path d="M320.64 188.15L324.94 192.45M320.64 192.45L324.94 188.15M320.64 190.30H324.94M322.79 188.15V192.45" stroke="#0000ff" stroke-width="0.7" fill="none"/>
<path d="M324.57 188.29L328.87 192.59M324.57 192.59L328.87 188.29M324.57 190.44H328.87M326.72 188.29V192.59" stroke="#0000ff" stroke-width="0.7" fill="none"/>
<path d="M328.49 188.35L332.79 192.65M328.49 192.65L332.79 188.35M328.49 190.50H332.79M330.64 188.35V192.65" stroke="#0000ff" stroke-width="0.7" fill="none"/>
<path d="M332.42 188.18L336.72 192.48M332.42 192.48L336.72 188.18M332.42 190.33H336.72M334.57 188.18V192.48" stroke="#0000ff" stroke-width="0.7" fill="none"/>
<path d="M336.35 187.78L340.65 192.08M336.35 192.08L340.65 187.78M336.35 189.93H340.65M338.50 187.78V192.08" stroke="#0000ff" stroke-width="0.7" fill="none"/>
<path d="M340.28 187.35L344.58 191.65M340.28 191.65L344.58 187.35M340.28 189.50H344.58M342.43 187.35V191.65" stroke="#0000ff" stroke-width="0.7" fill="none"/>
<path d="M344.21 186.95L348.51 191.25M344.21 191.25L348.51 186.95M344.21 189.10H348.51M346.36 186.95V191.25" stroke="#0000ff" stroke-width="0.7" fill="none"/>
<path d="M348.14 186.51L352.44 190.81M348.14 190.81L352.44 186.51M348.14 188.66H352.44M350.29 186.51V190.81" stroke="#0000ff" stroke-width="0.7" fill="none"/>
<path d="M352.07 186.01L356.37 190.31M352.07 190.31L356.37 186.01M352.07 188.16H356.37M354.22 186.01V190.31" stroke="#0000ff" stroke-width="0.7" fill="none"/>
<path d="M356.00 185.45L360.30 189.75M356.00 189.75L360.30 185.45M356.00 187.60H360.30M358.15 185.45V189.75" stroke="#0000ff" stroke-width="0.7" fill="none"/>
<path d="M359.93 184.78L364.23 189.08M359.93 189.08L364.23 184.78M359.93 186.93H364.23M362.08 184.78V189.08" stroke="#0000ff" stroke-width="0.7" fill="none"/>
<path d="M363.86 183.99L368.16 188.29M363.86 188.29L368.16 183.99M363.86 186.14H368.16M366.01 183.99V188.29" stroke="#0000ff" stroke-width="0.7" fill="none"/>
<path d="M367.79 183.11L372.09 187.41M367.79 187.41L372.09 183.11M367.79 185.26H372.09M369.94 183.11V187.41" stroke="#0000ff" stroke-width="0.7" fill="none"/>
<path d="M371.72 182.15L376.02 186.45M371.72 186.45L376.02 182.15M371.72 184.30H376.02M373.87 182.15V186.45" stroke="#0000ff" stroke-width="0.7" fill="none"/>
<path d="M375.65 181.12L379.95 185.42M375.65 185.42L379.95 181.12M375.65 183.27H379.95M377.80 181.12V185.42" stroke="#0000ff" stroke-width="0.7" fill="none"/>
<path d="M379.58 179.94L383.88 184.24M379.58 184.24L383.88 179.94M379.58 182.09H383.88M381.73 179.94V184.24" stroke="#0000ff" stroke-width="0.7" fill="none"/>
<path d="M383.50 178.55L387.80 182.85M383.50 182.85L387.80 178.55M383.50 180.70H387.80M385.65 178.55V182.85" stroke="#0000ff" stroke-width="0.7" fill="none"/>
<path d="M387.43 176.65L391.73 180.95M387.43 180.95L391.73 176.65M387.43 178.80H391.73M389.58 176.65V180.95" stroke="#0000ff" stroke-width="0.7" fill="none"/>
<path d="M391.36 174.95L395.66 179.25M391.36 179.25L395.66 174.95M391.36 177.10H395.66M393.51 174.95V179.25" stroke="#0000ff" stroke-width="0.7" fill="none"/>
<path d="M395.29 173.05L399.59 177.35M395.29 177.35L399.59 173.05M395.29 175.20H399.59M397.44 173.05V177.35" stroke="#0000ff" stroke-width="0.7" fill="none"/>
<path d="M399.22 170.95L403.52 175.25M399.22 175.25L403.52 170.95M399.22 173.10H403.52M401.37 170.95V175.25" stroke="#0000ff" stroke-width="0.7" fill="none"/>
<path d="M403.15 167.85L407.45 172.15M403.15 172.15L407.45 167.85M403.15 170.00H407.45M405.30 167.85V172.15" stroke="#0000ff" stroke-width="0.7" fill="none"/>
<path d="M407.08 163.85L411.38 168.15M407.08 168.15L411.38 163.85M407.08 166.00H411.38M409.23 163.85V168.15" stroke="#0000ff" stroke-width="0.7" fill="none"/>
<path d="M411.01 159.65L415.31 163.95M411.01 163.95L415.31 159.65M411.01 161.80H415.31M413.16 159.65V163.95" stroke="#0000ff" stroke-width="0.7" fill="none"/>
<path d="M414.94 153.95L419.24 158.25M414.94 158.25L419.24 153.95M414.94 156.10H419.24M417.09 153.95V158.25" stroke="#0000ff" stroke-width="0.7" fill="none"/>
<path d="M418.87 148.45L423.17 152.75M418.87 152.75L423.17 148.45M418.87 150.60H423.17M421.02 148.45V152.75" stroke="#0000ff" stroke-width="0.7" fill="none"/>
<path d="M422.80 147.35L427.10 151.65M422.80 151.65L427.10 147.35M422.80 149.50H427.10M424.95 147.35V151.65" stroke="#0000ff" stroke-width="0.7" fill="none"/>
<path d="M426.73 142.35L431.03 146.65M426.73 146.65L431.03 142.35M426.73 144.50H431.03M428.88 142.35V146.65" stroke="#0000ff" stroke-width="0.7" fill="none"/>
<path d="M430.66 131.05L434.96 135.35M430.66 135.35L434.96 131.05M430.66 133.20H434.96M432.81 131.05V135.35" stroke="#0000ff" stroke-width="0.7" fill="none"/>
<path d="M434.59 108.55L438.89 112.85M434.59 112.85L438.89 108.55M434.59 110.70H438.89M436.74 108.55V112.85" stroke="#0000ff" stroke-width="0.7" fill="none"/>
<path d="M51.66 79.90L55.59 115.30L59.52 139.50L63.45 153.70L67.38 161.40L71.31 167.90L75.24 172.80L79.17 176.80L83.10 180.50L87.03 181.80L90.96 183.50L94.89 185.30L98.82 187.30L102.75 189.50L106.67 191.08L110.60 192.39L114.53 193.50L118.46 194.43L122.39 195.22L126.32 195.98L130.25 196.80L134.18 197.76L138.11 198.70L142.04 199.50L145.97 200.20L149.90 200.89L153.83 201.53L157.76 201.90L161.68 202.05L165.61 202.16L169.54 202.20L173.47 202.19L177.40 202.15L181.33 202.10L185.26 201.94L189.19 201.60L193.12 200.60L197.05 199.00L200.98 196.60L204.91 190.90L208.84 186.50L212.77 186.00L216.69 188.20L220.62 191.50L224.55 193.90L228.48 194.80L232.41 195.10L236.34 195.20L240.27 195.20L244.20 195.20L248.13 195.20L252.06 195.20L255.99 195.10L259.92 194.80L263.85 193.90L267.78 191.50L271.71 188.20L275.63 186.00L279.56 186.50L283.49 190.90L287.42 196.60L291.35 199.00L295.28 200.60L299.21 201.60L303.14 201.94L307.07 202.10L311.00 202.15L314.93 202.19L318.86 202.20L322.79 202.16L326.72 202.05L330.64 201.90L334.57 201.53L338.50 200.89L342.43 200.20L346.36 199.50L350.29 198.70L354.22 197.76L358.15 196.80L362.08 195.98L366.01 195.22L369.94 194.43L373.87 193.50L377.80 192.39L381.73 191.08L385.65 189.50L389.58 187.30L393.51 185.30L397.44 183.50L401.37 181.80L405.30 180.50L409.23 176.80L413.16 172.80L417.09 167.90L421.02 161.40L424.95 153.70L428.88 139.50L432.81 115.30L436.74 79.90" fill="none" stroke="#ff00ff" stroke-width="0.58" stroke-dasharray="0.7,1.0"/>
<rect x="49.66" y="77.90" width="4.0" height="4.0" stroke="#ff00ff" stroke-width="0.64" fill="none"/>
<rect x="53.59" y="113.30" width="4.0" height="4.0" stroke="#ff00ff" stroke-width="0.64" fill="none"/>
<rect x="57.52" y="137.50" width="4.0" height="4.0" stroke="#ff00ff" stroke-width="0.64" fill="none"/>
<rect x="61.45" y="151.70" width="4.0" height="4.0" stroke="#ff00ff" stroke-width="0.64" fill="none"/>
<rect x="65.38" y="159.40" width="4.0" height="4.0" stroke="#ff00ff" stroke-width="0.64" fill="none"/>
<rect x="69.31" y="165.90" width="4.0" height="4.0" stroke="#ff00ff" stroke-width="0.64" fill="none"/>
<rect x="73.24" y="170.80" width="4.0" height="4.0" stroke="#ff00ff" stroke-width="0.64" fill="none"/>
<rect x="77.17" y="174.80" width="4.0" height="4.0" stroke="#ff00ff" stroke-width="0.64" fill="none"/>
<rect x="81.10" y="178.50" width="4.0" height="4.0" stroke="#ff00ff" stroke-width="0.64" fill="none"/>
<rect x="85.03" y="179.80" width="4.0" height="4.0" stroke="#ff00ff" stroke-width="0.64" fill="none"/>
<rect x="88.96" y="181.50" width="4.0" height="4.0" stroke="#ff00ff" stroke-width="0.64" fill="none"/>
<rect x="92.89" y="183.30" width="4.0" height="4.0" stroke="#ff00ff" stroke-width="0.64" fill="none"/>
<rect x="96.82" y="185.30" width="4.0" height="4.0" stroke="#ff00ff" stroke-width="0.64" fill="none"/>
<rect x="100.75" y="187.50" width="4.0" height="4.0" stroke="#ff00ff" stroke-width="0.64" fill="none"/>
<rect x="104.67" y="189.08" width="4.0" height="4.0" stroke="#ff00ff" stroke-width="0.64" fill="none"/>
<rect x="108.60" y="190.39" width="4.0" height="4.0" stroke="#ff00ff" stroke-width="0.64" fill="none"/>
<rect x="112.53" y="191.50" width="4.0" height="4.0" stroke="#ff00ff" stroke-width="0.64" fill="none"/>
<rect x="116.46" y="192.43" width="4.0" height="4.0" stroke="#ff00ff" stroke-width="0.64" fill="none"/>
<rect x="120.39" y="193.22" width="4.0" height="4.0" stroke="#ff00ff" stroke-width="0.64" fill="none"/>
<rect x="124.32" y="193.98" width="4.0" height="4.0" stroke="#ff00ff" stroke-width="0.64" fill="none"/>
<rect x="128.25" y="194.80" width="4.0" height="4.0" stroke="#ff00ff" stroke-width="0.64" fill="none"/>
<rect x="132.18" y="195.76" width="4.0" height="4.0" stroke="#ff00ff" stroke-width="0.64" fill="none"/>
<rect x="136.11" y="196.70" width="4.0" height="4.0" stroke="#ff00ff" stroke-width="0.64" fill="none"/>
<rect x="140.04" y="197.50" width="4.0" height="4.0" stroke="#ff00ff" stroke-width="0.64" fill="none"/>
<rect x="143.97" y="198.20" width="4.0" height="4.0" stroke="#ff00ff" stroke-width="0.64" fill="none"/>
<rect x="147.90" y="198.89" width="4.0" height="4.0" stroke="#ff00ff" stroke-width="0.64" fill="none"/>
<rect x="151.83" y="199.53" width="4.0" height="4.0" stroke="#ff00ff" stroke-width="0.64" fill="none"/>
<rect x="155.76" y="199.90" width="4.0" height="4.0" stroke="#ff00ff" stroke-width="0.64" fill="none"/>
<rect x="159.68" y="200.05" width="4.0" height="4.0" stroke="#ff00ff" stroke-width="0.64" fill="none"/>
<rect x="163.61" y="200.16" width="4.0" height="4.0" stroke="#ff00ff" stroke-width="0.64" fill="none"/>
<rect x="167.54" y="200.20" width="4.0" height="4.0" stroke="#ff00ff" stroke-width="0.64" fill="none"/>
<rect x="171.47" y="200.19" width="4.0" height="4.0" stroke="#ff00ff" stroke-width="0.64" fill="none"/>
<rect x="175.40" y="200.15" width="4.0" height="4.0" stroke="#ff00ff" stroke-width="0.64" fill="none"/>
<rect x="179.33" y="200.10" width="4.0" height="4.0" stroke="#ff00ff" stroke-width="0.64" fill="none"/>
<rect x="183.26" y="199.94" width="4.0" height="4.0" stroke="#ff00ff" stroke-width="0.64" fill="none"/>
<rect x="187.19" y="199.60" width="4.0" height="4.0" stroke="#ff00ff" stroke-width="0.64" fill="none"/>
<rect x="191.12" y="198.60" width="4.0" height="4.0" stroke="#ff00ff" stroke-width="0.64" fill="none"/>
<rect x="195.05" y="197.00" width="4.0" height="4.0" stroke="#ff00ff" stroke-width="0.64" fill="none"/>
<rect x="198.98" y="194.60" width="4.0" height="4.0" stroke="#ff00ff" stroke-width="0.64" fill="none"/>
<rect x="202.91" y="188.90" width="4.0" height="4.0" stroke="#ff00ff" stroke-width="0.64" fill="none"/>
<rect x="206.84" y="184.50" width="4.0" height="4.0" stroke="#ff00ff" stroke-width="0.64" fill="none"/>
<rect x="210.77" y="184.00" width="4.0" height="4.0" stroke="#ff00ff" stroke-width="0.64" fill="none"/>
<rect x="214.69" y="186.20" width="4.0" height="4.0" stroke="#ff00ff" stroke-width="0.64" fill="none"/>
<rect x="218.62" y="189.50" width="4.0" height="4.0" stroke="#ff00ff" stroke-width="0.64" fill="none"/>
<rect x="222.55" y="191.90" width="4.0" height="4.0" stroke="#ff00ff" stroke-width="0.64" fill="none"/>
<rect x="226.48" y="192.80" width="4.0" height="4.0" stroke="#ff00ff" stroke-width="0.64" fill="none"/>
<rect x="230.41" y="193.10" width="4.0" height="4.0" stroke="#ff00ff" stroke-width="0.64" fill="none"/>
<rect x="234.34" y="193.20" width="4.0" height="4.0" stroke="#ff00ff" stroke-width="0.64" fill="none"/>
<rect x="238.27" y="193.20" width="4.0" height="4.0" stroke="#ff00ff" stroke-width="0.64" fill="none"/>
<rect x="242.20" y="193.20" width="4.0" height="4.0" stroke="#ff00ff" stroke-width="0.64" fill="none"/>
<rect x="246.13" y="193.20" width="4.0" height="4.0" stroke="#ff00ff" stroke-width="0.64" fill="none"/>
<rect x="250.06" y="193.20" width="4.0" height="4.0" stroke="#ff00ff" stroke-width="0.64" fill="none"/>
<rect x="253.99" y="193.10" width="4.0" height="4.0" stroke="#ff00ff" stroke-width="0.64" fill="none"/>
<rect x="257.92" y="192.80" width="4.0" height="4.0" stroke="#ff00ff" stroke-width="0.64" fill="none"/>
<rect x="261.85" y="191.90" width="4.0" height="4.0" stroke="#ff00ff" stroke-width="0.64" fill="none"/>
<rect x="265.78" y="189.50" width="4.0" height="4.0" stroke="#ff00ff" stroke-width="0.64" fill="none"/>
<rect x="269.71" y="186.20" width="4.0" height="4.0" stroke="#ff00ff" stroke-width="0.64" fill="none"/>
<rect x="273.63" y="184.00" width="4.0" height="4.0" stroke="#ff00ff" stroke-width="0.64" fill="none"/>
<rect x="277.56" y="184.50" width="4.0" height="4.0" stroke="#ff00ff" stroke-width="0.64" fill="none"/>
<rect x="281.49" y="188.90" width="4.0" height="4.0" stroke="#ff00ff" stroke-width="0.64" fill="none"/>
<rect x="285.42" y="194.60" width="4.0" height="4.0" stroke="#ff00ff" stroke-width="0.64" fill="none"/>
<rect x="289.35" y="197.00" width="4.0" height="4.0" stroke="#ff00ff" stroke-width="0.64" fill="none"/>
<rect x="293.28" y="198.60" width="4.0" height="4.0" stroke="#ff00ff" stroke-width="0.64" fill="none"/>
<rect x="297.21" y="199.60" width="4.0" height="4.0" stroke="#ff00ff" stroke-width="0.64" fill="none"/>
<rect x="301.14" y="199.94" width="4.0" height="4.0" stroke="#ff00ff" stroke-width="0.64" fill="none"/>
<rect x="305.07" y="200.10" width="4.0" height="4.0" stroke="#ff00ff" stroke-width="0.64" fill="none"/>
<rect x="309.00" y="200.15" width="4.0" height="4.0" stroke="#ff00ff" stroke-width="0.64" fill="none"/>
<rect x="312.93" y="200.19" width="4.0" height="4.0" stroke="#ff00ff" stroke-width="0.64" fill="none"/>
<rect x="316.86" y="200.20" width="4.0" height="4.0" stroke="#ff00ff" stroke-width="0.64" fill="none"/>
<rect x="320.79" y="200.16" width="4.0" height="4.0" stroke="#ff00ff" stroke-width="0.64" fill="none"/>
<rect x="324.72" y="200.05" width="4.0" height="4.0" stroke="#ff00ff" stroke-width="0.64" fill="none"/>
<rect x="328.64" y="199.90" width="4.0" height="4.0" stroke="#ff00ff" stroke-width="0.64" fill="none"/>
<rect x="332.57" y="199.53" width="4.0" height="4.0" stroke="#ff00ff" stroke-width="0.64" fill="none"/>
<rect x="336.50" y="198.89" width="4.0" height="4.0" stroke="#ff00ff" stroke-width="0.64" fill="none"/>
<rect x="340.43" y="198.20" width="4.0" height="4.0" stroke="#ff00ff" stroke-width="0.64" fill="none"/>
<rect x="344.36" y="197.50" width="4.0" height="4.0" stroke="#ff00ff" stroke-width="0.64" fill="none"/>
<rect x="348.29" y="196.70" width="4.0" height="4.0" stroke="#ff00ff" stroke-width="0.64" fill="none"/>
<rect x="352.22" y="195.76" width="4.0" height="4.0" stroke="#ff00ff" stroke-width="0.64" fill="none"/>
<rect x="356.15" y="194.80" width="4.0" height="4.0" stroke="#ff00ff" stroke-width="0.64" fill="none"/>
<rect x="360.08" y="193.98" width="4.0" height="4.0" stroke="#ff00ff" stroke-width="0.64" fill="none"/>
<rect x="364.01" y="193.22" width="4.0" height="4.0" stroke="#ff00ff" stroke-width="0.64" fill="none"/>
<rect x="367.94" y="192.43" width="4.0" height="4.0" stroke="#ff00ff" stroke-width="0.64" fill="none"/>
<rect x="371.87" y="191.50" width="4.0" height="4.0" stroke="#ff00ff" stroke-width="0.64" fill="none"/>
<rect x="375.80" y="190.39" width="4.0" height="4.0" stroke="#ff00ff" stroke-width="0.64" fill="none"/>
<rect x="379.73" y="189.08" width="4.0" height="4.0" stroke="#ff00ff" stroke-width="0.64" fill="none"/>
<rect x="383.65" y="187.50" width="4.0" height="4.0" stroke="#ff00ff" stroke-width="0.64" fill="none"/>
<rect x="387.58" y="185.30" width="4.0" height="4.0" stroke="#ff00ff" stroke-width="0.64" fill="none"/>
<rect x="391.51" y="183.30" width="4.0" height="4.0" stroke="#ff00ff" stroke-width="0.64" fill="none"/>
<rect x="395.44" y="181.50" width="4.0" height="4.0" stroke="#ff00ff" stroke-width="0.64" fill="none"/>
<rect x="399.37" y="179.80" width="4.0" height="4.0" stroke="#ff00ff" stroke-width="0.64" fill="none"/>
<rect x="403.30" y="178.50" width="4.0" height="4.0" stroke="#ff00ff" stroke-width="0.64" fill="none"/>
<rect x="407.23" y="174.80" width="4.0" height="4.0" stroke="#ff00ff" stroke-width="0.64" fill="none"/>
<rect x="411.16" y="170.80" width="4.0" height="4.0" stroke="#ff00ff" stroke-width="0.64" fill="none"/>
<rect x="415.09" y="165.90" width="4.0" height="4.0" stroke="#ff00ff" stroke-width="0.64" fill="none"/>
<rect x="419.02" y="159.40" width="4.0" height="4.0" stroke="#ff00ff" stroke-width="0.64" fill="none"/>
<rect x="422.95" y="151.70" width="4.0" height="4.0" stroke="#ff00ff" stroke-width="0.64" fill="none"/>
<rect x="426.88" y="137.50" width="4.0" height="4.0" stroke="#ff00ff" stroke-width="0.64" fill="none"/>
<rect x="430.81" y="113.30" width="4.0" height="4.0" stroke="#ff00ff" stroke-width="0.64" fill="none"/>
<rect x="434.74" y="77.90" width="4.0" height="4.0" stroke="#ff00ff" stroke-width="0.64" fill="none"/>
<path d="M51.66 55.90L55.59 141.10L59.52 160.30L63.45 170.20L67.38 175.20L71.31 178.80L75.24 182.10L79.17 180.50L83.10 170.20L87.03 185.00L90.96 191.00L94.89 194.90L98.82 197.20L102.75 199.00L106.67 201.85L110.60 204.80L114.53 207.00L118.46 208.80L122.39 210.24L126.32 211.40L130.25 212.30L134.18 213.10L138.11 213.95L142.04 214.70L145.97 215.30L149.90 215.70L153.83 215.91L157.76 216.00L161.68 215.96L165.61 215.86L169.54 215.70L173.47 215.30L177.40 214.70L181.33 214.11L185.26 213.40L189.19 212.49L193.12 211.40L197.05 210.14L200.98 208.80L204.91 207.50L208.84 202.50L212.77 199.80L216.69 200.90L220.62 201.20L224.55 201.00L228.48 199.70L232.41 195.40L236.34 190.90L240.27 176.40L244.20 142.06L248.13 176.40L252.06 190.90L255.99 195.40L259.92 199.70L263.85 201.00L267.78 201.20L271.71 200.90L275.63 199.80L279.56 202.50L283.49 207.50L287.42 208.80L291.35 210.14L295.28 211.40L299.21 212.49L303.14 213.40L307.07 214.11L311.00 214.70L314.93 215.30L318.86 215.70L322.79 215.86L326.72 215.96L330.64 216.00L334.57 215.91L338.50 215.70L342.43 215.30L346.36 214.70L350.29 213.95L354.22 213.10L358.15 212.30L362.08 211.40L366.01 210.24L369.94 208.80L373.87 207.00L377.80 204.80L381.73 201.85L385.65 199.00L389.58 197.20L393.51 194.90L397.44 191.00L401.37 185.00L405.30 170.20L409.23 180.50L413.16 182.10L417.09 178.80L421.02 175.20L424.95 170.20L428.88 160.30L432.81 141.10L436.74 55.90" fill="none" stroke="#00ffff" stroke-width="0.58" stroke-dasharray="3.4,1.3,0.7,1.3"/>
<rect x="49.36" y="53.60" width="4.6" height="4.6" fill="#00ffff"/>
<rect x="53.29" y="138.80" width="4.6" height="4.6" fill="#00ffff"/>
<rect x="57.22" y="158.00" width="4.6" height="4.6" fill="#00ffff"/>
<rect x="61.15" y="167.90" width="4.6" height="4.6" fill="#00ffff"/>
<rect x="65.08" y="172.90" width="4.6" height="4.6" fill="#00ffff"/>
<rect x="69.01" y="176.50" width="4.6" height="4.6" fill="#00ffff"/>
<rect x="72.94" y="179.80" width="4.6" height="4.6" fill="#00ffff"/>
<rect x="76.87" y="178.20" width="4.6" height="4.6" fill="#00ffff"/>
<rect x="80.80" y="167.90" width="4.6" height="4.6" fill="#00ffff"/>
<rect x="84.73" y="182.70" width="4.6" height="4.6" fill="#00ffff"/>
<rect x="88.66" y="188.70" width="4.6" height="4.6" fill="#00ffff"/>
<rect x="92.59" y="192.60" width="4.6" height="4.6" fill="#00ffff"/>
<rect x="96.52" y="194.90" width="4.6" height="4.6" fill="#00ffff"/>
<rect x="100.45" y="196.70" width="4.6" height="4.6" fill="#00ffff"/>
<rect x="104.37" y="199.55" width="4.6" height="4.6" fill="#00ffff"/>
<rect x="108.30" y="202.50" width="4.6" height="4.6" fill="#00ffff"/>
<rect x="112.23" y="204.70" width="4.6" height="4.6" fill="#00ffff"/>
<rect x="116.16" y="206.50" width="4.6" height="4.6" fill="#00ffff"/>
<rect x="120.09" y="207.94" width="4.6" height="4.6" fill="#00ffff"/>
<rect x="124.02" y="209.10" width="4.6" height="4.6" fill="#00ffff"/>
<rect x="127.95" y="210.00" width="4.6" height="4.6" fill="#00ffff"/>
<rect x="131.88" y="210.80" width="4.6" height="4.6" fill="#00ffff"/>
<rect x="135.81" y="211.65" width="4.6" height="4.6" fill="#00ffff"/>
<rect x="139.74" y="212.40" width="4.6" height="4.6" fill="#00ffff"/>
<rect x="143.67" y="213.00" width="4.6" height="4.6" fill="#00ffff"/>
<rect x="147.60" y="213.40" width="4.6" height="4.6" fill="#00ffff"/>
<rect x="151.53" y="213.61" width="4.6" height="4.6" fill="#00ffff"/>
<rect x="155.46" y="213.70" width="4.6" height="4.6" fill="#00ffff"/>
<rect x="159.38" y="213.66" width="4.6" height="4.6" fill="#00ffff"/>
<rect x="163.31" y="213.56" width="4.6" height="4.6" fill="#00ffff"/>
<rect x="167.24" y="213.40" width="4.6" height="4.6" fill="#00ffff"/>
<rect x="171.17" y="213.00" width="4.6" height="4.6" fill="#00ffff"/>
<rect x="175.10" y="212.40" width="4.6" height="4.6" fill="#00ffff"/>
<rect x="179.03" y="211.81" width="4.6" height="4.6" fill="#00ffff"/>
<rect x="182.96" y="211.10" width="4.6" height="4.6" fill="#00ffff"/>
<rect x="186.89" y="210.19" width="4.6" height="4.6" fill="#00ffff"/>
<rect x="190.82" y="209.10" width="4.6" height="4.6" fill="#00ffff"/>
<rect x="194.75" y="207.84" width="4.6" height="4.6" fill="#00ffff"/>
<rect x="198.68" y="206.50" width="4.6" height="4.6" fill="#00ffff"/>
<rect x="202.61" y="205.20" width="4.6" height="4.6" fill="#00ffff"/>
<rect x="206.54" y="200.20" width="4.6" height="4.6" fill="#00ffff"/>
<rect x="210.47" y="197.50" width="4.6" height="4.6" fill="#00ffff"/>
<rect x="214.39" y="198.60" width="4.6" height="4.6" fill="#00ffff"/>
<rect x="218.32" y="198.90" width="4.6" height="4.6" fill="#00ffff"/>
<rect x="222.25" y="198.70" width="4.6" height="4.6" fill="#00ffff"/>
<rect x="226.18" y="197.40" width="4.6" height="4.6" fill="#00ffff"/>
<rect x="230.11" y="193.10" width="4.6" height="4.6" fill="#00ffff"/>
<rect x="234.04" y="188.60" width="4.6" height="4.6" fill="#00ffff"/>
<rect x="237.97" y="174.10" width="4.6" height="4.6" fill="#00ffff"/>
<rect x="241.90" y="139.76" width="4.6" height="4.6" fill="#00ffff"/>
<rect x="245.83" y="174.10" width="4.6" height="4.6" fill="#00ffff"/>
<rect x="249.76" y="188.60" width="4.6" height="4.6" fill="#00ffff"/>
<rect x="253.69" y="193.10" width="4.6" height="4.6" fill="#00ffff"/>
<rect x="257.62" y="197.40" width="4.6" height="4.6" fill="#00ffff"/>
<rect x="261.55" y="198.70" width="4.6" height="4.6" fill="#00ffff"/>
<rect x="265.48" y="198.90" width="4.6" height="4.6" fill="#00ffff"/>
<rect x="269.41" y="198.60" width="4.6" height="4.6" fill="#00ffff"/>
<rect x="273.33" y="197.50" width="4.6" height="4.6" fill="#00ffff"/>
<rect x="277.26" y="200.20" width="4.6" height="4.6" fill="#00ffff"/>
<rect x="281.19" y="205.20" width="4.6" height="4.6" fill="#00ffff"/>
<rect x="285.12" y="206.50" width="4.6" height="4.6" fill="#00ffff"/>
<rect x="289.05" y="207.84" width="4.6" height="4.6" fill="#00ffff"/>
<rect x="292.98" y="209.10" width="4.6" height="4.6" fill="#00ffff"/>
<rect x="296.91" y="210.19" width="4.6" height="4.6" fill="#00ffff"/>
<rect x="300.84" y="211.10" width="4.6" height="4.6" fill="#00ffff"/>
<rect x="304.77" y="211.81" width="4.6" height="4.6" fill="#00ffff"/>
<rect x="308.70" y="212.40" width="4.6" height="4.6" fill="#00ffff"/>
<rect x="312.63" y="213.00" width="4.6" height="4.6" fill="#00ffff"/>
<rect x="316.56" y="213.40" width="4.6" height="4.6" fill="#00ffff"/>
<rect x="320.49" y="213.56" width="4.6" height="4.6" fill="#00ffff"/>
<rect x="324.42" y="213.66" width="4.6" height="4.6" fill="#00ffff"/>
<rect x="328.34" y="213.70" width="4.6" height="4.6" fill="#00ffff"/>
<rect x="332.27" y="213.61" width="4.6" height="4.6" fill="#00ffff"/>
<rect x="336.20" y="213.40" width="4.6" height="4.6" fill="#00ffff"/>
<rect x="340.13" y="213.00" width="4.6" height="4.6" fill="#00ffff"/>
<rect x="344.06" y="212.40" width="4.6" height="4.6" fill="#00ffff"/>
<rect x="347.99" y="211.65" width="4.6" height="4.6" fill="#00ffff"/>
<rect x="351.92" y="210.80" width="4.6" height="4.6" fill="#00ffff"/>
<rect x="355.85" y="210.00" width="4.6" height="4.6" fill="#00ffff"/>
<rect x="359.78" y="209.10" width="4.6" height="4.6" fill="#00ffff"/>
<rect x="363.71" y="207.94" width="4.6" height="4.6" fill="#00ffff"/>
<rect x="367.64" y="206.50" width="4.6" height="4.6" fill="#00ffff"/>
<rect x="371.57" y="204.70" width="4.6" height="4.6" fill="#00ffff"/>
<rect x="375.50" y="202.50" width="4.6" height="4.6" fill="#00ffff"/>
<rect x="379.43" y="199.55" width="4.6" height="4.6" fill="#00ffff"/>
<rect x="383.35" y="196.70" width="4.6" height="4.6" fill="#00ffff"/>
<rect x="387.28" y="194.90" width="4.6" height="4.6" fill="#00ffff"/>
<rect x="391.21" y="192.60" width="4.6" height="4.6" fill="#00ffff"/>
<rect x="395.14" y="188.70" width="4.6" height="4.6" fill="#00ffff"/>
<rect x="399.07" y="182.70" width="4.6" height="4.6" fill="#00ffff"/>
<rect x="403.00" y="167.90" width="4.6" height="4.6" fill="#00ffff"/>
<rect x="406.93" y="178.20" width="4.6" height="4.6" fill="#00ffff"/>
<rect x="410.86" y="179.80" width="4.6" height="4.6" fill="#00ffff"/>
<rect x="414.79" y="176.50" width="4.6" height="4.6" fill="#00ffff"/>
<rect x="418.72" y="172.90" width="4.6" height="4.6" fill="#00ffff"/>
<rect x="422.65" y="167.90" width="4.6" height="4.6" fill="#00ffff"/>
<rect x="426.58" y="158.00" width="4.6" height="4.6" fill="#00ffff"/>
<rect x="430.51" y="138.80" width="4.6" height="4.6" fill="#00ffff"/>
<rect x="434.44" y="53.60" width="4.6" height="4.6" fill="#00ffff"/>
<path d="M51.66 44.50L55.59 163.80L59.52 181.80L63.45 187.50L67.38 188.60L71.31 161.90L75.24 198.90L79.17 204.80L83.10 203.00L87.03 213.80L90.96 217.20L94.89 220.30L98.82 222.10L102.75 223.40L106.67 223.70L110.60 222.30L114.53 224.10L118.46 224.90L122.39 223.20L126.32 215.00L130.25 196.80L134.18 215.70L138.11 221.90L142.04 222.80L145.97 222.60L149.90 219.70L153.83 223.20L157.76 224.10L161.68 223.60L165.61 223.20L169.54 222.30L173.47 219.30L177.40 219.30L181.33 214.40L185.26 200.80L189.19 213.40L193.12 211.40L197.05 207.90L200.98 192.20L204.91 134.10L208.84 198.80L212.77 218.60L216.69 222.30L220.62 223.90L224.55 216.00L228.48 225.50L232.41 229.80L236.34 230.20L240.27 231.50L244.20 232.00L248.13 231.50L252.06 230.20L255.99 229.80L259.92 225.50L263.85 216.00L267.78 223.90L271.71 222.30L275.63 218.60L279.56 198.80L283.49 134.10L287.42 192.20L291.35 207.90L295.28 211.40L299.21 213.40L303.14 200.80L307.07 214.40L311.00 219.30L314.93 219.30L318.86 222.30L322.79 223.20L326.72 223.60L330.64 224.10L334.57 223.20L338.50 219.70L342.43 222.60L346.36 222.80L350.29 221.90L354.22 215.70L358.15 196.80L362.08 215.00L366.01 223.20L369.94 224.90L373.87 224.10L377.80 222.30L381.73 223.70L385.65 223.40L389.58 222.10L393.51 220.30L397.44 217.20L401.37 213.80L405.30 203.00L409.23 204.80L413.16 198.90L417.09 161.90L421.02 188.60L424.95 187.50L428.88 181.80L432.81 163.80L436.74 44.50" fill="none" stroke="#000000" stroke-width="0.58" stroke-dasharray="1.4,1.4,1.4,2.8"/>
<circle cx="51.66" cy="44.50" r="2.25" fill="#000000"/>
<circle cx="55.59" cy="163.80" r="2.25" fill="#000000"/>
<circle cx="59.52" cy="181.80" r="2.25" fill="#000000"/>
<circle cx="63.45" cy="187.50" r="2.25" fill="#000000"/>
<circle cx="67.38" cy="188.60" r="2.25" fill="#000000"/>
<circle cx="71.31" cy="161.90" r="2.25" fill="#000000"/>
<circle cx="75.24" cy="198.90" r="2.25" fill="#000000"/>
<circle cx="79.17" cy="204.80" r="2.25" fill="#000000"/>
<circle cx="83.10" cy="203.00" r="2.25" fill="#000000"/>
<circle cx="87.03" cy="213.80" r="2.25" fill="#000000"/>
<circle cx="90.96" cy="217.20" r="2.25" fill="#000000"/>
<circle cx="94.89" cy="220.30" r="2.25" fill="#000000"/>
<circle cx="98.82" cy="222.10" r="2.25" fill="#000000"/>
<circle cx="102.75" cy="223.40" r="2.25" fill="#000000"/>
<circle cx="106.67" cy="223.70" r="2.25" fill="#000000"/>
<circle cx="110.60" cy="222.30" r="2.25" fill="#000000"/>
<circle cx="114.53" cy="224.10" r="2.25" fill="#000000"/>
<circle cx="118.46" cy="224.90" r="2.25" fill="#000000"/>
<circle cx="122.39" cy="223.20" r="2.25" fill="#000000"/>
<circle cx="126.32" cy="215.00" r="2.25" fill="#000000"/>
<circle cx="130.25" cy="196.80" r="2.25" fill="#000000"/>
<circle cx="134.18" cy="215.70" r="2.25" fill="#000000"/>
<circle cx="138.11" cy="221.90" r="2.25" fill="#000000"/>
<circle cx="142.04" cy="222.80" r="2.25" fill="#000000"/>
<circle cx="145.97" cy="222.60" r="2.25" fill="#000000"/>
<circle cx="149.90" cy="219.70" r="2.25" fill="#000000"/>
<circle cx="153.83" cy="223.20" r="2.25" fill="#000000"/>
<circle cx="157.76" cy="224.10" r="2.25" fill="#000000"/>
<circle cx="161.68" cy="223.60" r="2.25" fill="#000000"/>
<circle cx="165.61" cy="223.20" r="2.25" fill="#000000"/>
<circle cx="169.54" cy="222.30" r="2.25" fill="#000000"/>
<circle cx="173.47" cy="219.30" r="2.25" fill="#000000"/>
<circle cx="177.40" cy="219.30" r="2.25" fill="#000000"/>
<circle cx="181.33" cy="214.40" r="2.25" fill="#000000"/>
<circle cx="185.26" cy="200.80" r="2.25" fill="#000000"/>
<circle cx="189.19" cy="213.40" r="2.25" fill="#000000"/>
<circle cx="193.12" cy="211.40" r="2.25" fill="#000000"/>
<circle cx="197.05" cy="207.90" r="2.25" fill="#000000"/>
<circle cx="200.98" cy="192.20" r="2.25" fill="#000000"/>
<circle cx="204.91" cy="134.10" r="2.25" fill="#000000"/>
<circle cx="208.84" cy="198.80" r="2.25" fill="#000000"/>
<circle cx="212.77" cy="218.60" r="2.25" fill="#000000"/>
<circle cx="216.69" cy="222.30" r="2.25" fill="#000000"/>
<circle cx="220.62" cy="223.90" r="2.25" fill="#000000"/>
<circle cx="224.55" cy="216.00" r="2.25" fill="#000000"/>
<circle cx="228.48" cy="225.50" r="2.25" fill="#000000"/>
<circle cx="232.41" cy="229.80" r="2.25" fill="#000000"/>
<circle cx="236.34" cy="230.20" r="2.25" fill="#000000"/>
<circle cx="240.27" cy="231.50" r="2.25" fill="#000000"/>
<circle cx="244.20" cy="232.00" r="2.25" fill="#000000"/>
<circle cx="248.13" cy="231.50" r="2.25" fill="#000000"/>
<circle cx="252.06" cy="230.20" r="2.25" fill="#000000"/>
<circle cx="255.99" cy="229.80" r="2.25" fill="#000000"/>
<circle cx="259.92" cy="225.50" r="2.25" fill="#000000"/>
<circle cx="263.85" cy="216.00" r="2.25" fill="#000000"/>
<circle cx="267.78" cy="223.90" r="2.25" fill="#000000"/>
<circle cx="271.71" cy="222.30" r="2.25" fill="#000000"/>
<circle cx="275.63" cy="218.60" r="2.25" fill="#000000"/>
<circle cx="279.56" cy="198.80" r="2.25" fill="#000000"/>
<circle cx="283.49" cy="134.10" r="2.25" fill="#000000"/>
<circle cx="287.42" cy="192.20" r="2.25" fill="#000000"/>
<circle cx="291.35" cy="207.90" r="2.25" fill="#000000"/>
<circle cx="295.28" cy="211.40" r="2.25" fill="#000000"/>
<circle cx="299.21" cy="213.40" r="2.25" fill="#000000"/>
<circle cx="303.14" cy="200.80" r="2.25" fill="#000000"/>
<circle cx="307.07" cy="214.40" r="2.25" fill="#000000"/>
<circle cx="311.00" cy="219.30" r="2.25" fill="#000000"/>
<circle cx="314.93" cy="219.30" r="2.25" fill="#000000"/>
<circle cx="318.86" cy="222.30" r="2.25" fill="#000000"/>
<circle cx="322.79" cy="223.20" r="2.25" fill="#000000"/>
<circle cx="326.72" cy="223.60" r="2.25" fill="#000000"/>
<circle cx="330.64" cy="224.10" r="2.25" fill="#000000"/>
<circle cx="334.57" cy="223.20" r="2.25" fill="#000000"/>
<circle cx="338.50" cy="219.70" r="2.25" fill="#000000"/>
<circle cx="342.43" cy="222.60" r="2.25" fill="#000000"/>
<circle cx="346.36" cy="222.80" r="2.25" fill="#000000"/>
<circle cx="350.29" cy="221.90" r="2.25" fill="#000000"/>
<circle cx="354.22" cy="215.70" r="2.25" fill="#000000"/>
<circle cx="358.15" cy="196.80" r="2.25" fill="#000000"/>
<circle cx="362.08" cy="215.00" r="2.25" fill="#000000"/>
<circle cx="366.01" cy="223.20" r="2.25" fill="#000000"/>
<circle cx="369.94" cy="224.90" r="2.25" fill="#000000"/>
<circle cx="373.87" cy="224.10" r="2.25" fill="#000000"/>
<circle cx="377.80" cy="222.30" r="2.25" fill="#000000"/>
<circle cx="381.73" cy="223.70" r="2.25" fill="#000000"/>
<circle cx="385.65" cy="223.40" r="2.25" fill="#000000"/>
<circle cx="389.58" cy="222.10" r="2.25" fill="#000000"/>
<circle cx="393.51" cy="220.30" r="2.25" fill="#000000"/>
<circle cx="397.44" cy="217.20" r="2.25" fill="#000000"/>
<circle cx="401.37" cy="213.80" r="2.25" fill="#000000"/>
<circle cx="405.30" cy="203.00" r="2.25" fill="#000000"/>
<circle cx="409.23" cy="204.80" r="2.25" fill="#000000"/>
<circle cx="413.16" cy="198.90" r="2.25" fill="#000000"/>
<circle cx="417.09" cy="161.90" r="2.25" fill="#000000"/>
<circle cx="421.02" cy="188.60" r="2.25" fill="#000000"/>
<circle cx="424.95" cy="187.50" r="2.25" fill="#000000"/>
<circle cx="428.88" cy="181.80" r="2.25" fill="#000000"/>
<circle cx="432.81" cy="163.80" r="2.25" fill="#000000"/>
<circle cx="436.74" cy="44.50" r="2.25" fill="#000000"/>
<path d="M51.66 39.10L55.59 177.50L59.52 141.90L63.45 187.60L67.38 213.10L71.31 232.70L75.24 240.90L79.17 245.50L83.10 244.50L87.03 246.50L90.96 226.50L94.89 243.60L98.82 237.00L102.75 244.00L106.67 244.20L110.60 245.40L114.53 245.60L118.46 241.40L122.39 246.70L126.32 235.10L130.25 249.30L134.18 246.30L138.11 247.60L142.04 244.00L145.97 236.50L149.90 227.10L153.83 212.10L157.76 181.00L161.68 204.50L165.61 114.00L169.54 216.00L173.47 200.30L177.40 235.30L181.33 234.60L185.26 250.20L189.19 252.80L193.12 251.90L197.05 240.80L200.98 247.60L204.91 184.30L208.84 232.30L212.77 216.70L216.69 234.40L220.62 238.80L224.55 246.30L228.48 247.60L232.41 251.30L236.34 250.20L240.27 253.60L244.20 246.00L248.13 253.60L252.06 250.20L255.99 251.30L259.92 247.60L263.85 246.30L267.78 238.80L271.71 234.40L275.63 216.70L279.56 232.30L283.49 184.30L287.42 247.60L291.35 240.80L295.28 251.90L299.21 252.80L303.14 250.20L307.07 234.60L311.00 235.30L314.93 200.30L318.86 216.00L322.79 114.00L326.72 204.50L330.64 181.00L334.57 212.10L338.50 227.10L342.43 236.50L346.36 244.00L350.29 247.60L354.22 246.30L358.15 249.30L362.08 235.10L366.01 246.70L369.94 241.40L373.87 245.60L377.80 245.40L381.73 244.20L385.65 244.00L389.58 237.00L393.51 243.60L397.44 226.50L401.37 246.50L405.30 244.50L409.23 245.50L413.16 240.90L417.09 232.70L421.02 213.10L424.95 187.60L428.88 141.90L432.81 177.50L436.74 39.10" fill="none" stroke="#ff4d00" stroke-width="0.58" stroke-dasharray="1.2,0.8,1.2,0.8,1.2,1.6"/>
<path d="M51.66 37.10L49.61 40.60H53.71Z" stroke="#ff4d00" stroke-width="0.6" fill="#ff4d00" fill-opacity="0.12"/>
<path d="M55.59 175.50L53.54 179.00H57.64Z" stroke="#ff4d00" stroke-width="0.6" fill="#ff4d00" fill-opacity="0.12"/>
<path d="M59.52 139.90L57.47 143.40H61.57Z" stroke="#ff4d00" stroke-width="0.6" fill="#ff4d00" fill-opacity="0.12"/>
<path d="M63.45 185.60L61.40 189.10H65.50Z" stroke="#ff4d00" stroke-width="0.6" fill="#ff4d00" fill-opacity="0.12"/>
<path d="M67.38 211.10L65.33 214.60H69.43Z" stroke="#ff4d00" stroke-width="0.6" fill="#ff4d00" fill-opacity="0.12"/>
<path d="M71.31 230.70L69.26 234.20H73.36Z" stroke="#ff4d00" stroke-width="0.6" fill="#ff4d00" fill-opacity="0.12"/>
<path d="M75.24 238.90L73.19 242.40H77.29Z" stroke="#ff4d00" stroke-width="0.6" fill="#ff4d00" fill-opacity="0.12"/>
<path d="M79.17 243.50L77.12 247.00H81.22Z" stroke="#ff4d00" stroke-width="0.6" fill="#ff4d00" fill-opacity="0.12"/>
<path d="M83.10 242.50L81.05 246.00H85.15Z" stroke="#ff4d00" stroke-width="0.6" fill="#ff4d00" fill-opacity="0.12"/>
<path d="M87.03 244.50L84.98 248.00H89.08Z" stroke="#ff4d00" stroke-width="0.6" fill="#ff4d00" fill-opacity="0.12"/>
<path d="M90.96 224.50L88.91 228.00H93.01Z" stroke="#ff4d00" stroke-width="0.6" fill="#ff4d00" fill-opacity="0.12"/>
<path d="M94.89 241.60L92.84 245.10H96.94Z" stroke="#ff4d00" stroke-width="0.6" fill="#ff4d00" fill-opacity="0.12"/>
<path d="M98.82 235.00L96.77 238.50H100.87Z" stroke="#ff4d00" stroke-width="0.6" fill="#ff4d00" fill-opacity="0.12"/>
<path d="M102.75 242.00L100.70 245.50H104.80Z" stroke="#ff4d00" stroke-width="0.6" fill="#ff4d00" fill-opacity="0.12"/>
<path d="M106.67 242.20L104.62 245.70H108.72Z" stroke="#ff4d00" stroke-width="0.6" fill="#ff4d00" fill-opacity="0.12"/>
<path d="M110.60 243.40L108.55 246.90H112.65Z" stroke="#ff4d00" stroke-width="0.6" fill="#ff4d00" fill-opacity="0.12"/>
<path d="M114.53 243.60L112.48 247.10H116.58Z" stroke="#ff4d00" stroke-width="0.6" fill="#ff4d00" fill-opacity="0.12"/>
<path d="M118.46 239.40L116.41 242.90H120.51Z" stroke="#ff4d00" stroke-width="0.6" fill="#ff4d00" fill-opacity="0.12"/>
<path d="M122.39 244.70L120.34 248.20H124.44Z" stroke="#ff4d00" stroke-width="0.6" fill="#ff4d00" fill-opacity="0.12"/>
<path d="M126.32 233.10L124.27 236.60H128.37Z" stroke="#ff4d00" stroke-width="0.6" fill="#ff4d00" fill-opacity="0.12"/>
<path d="M130.25 247.30L128.20 250.80H132.30Z" stroke="#ff4d00" stroke-width="0.6" fill="#ff4d00" fill-opacity="0.12"/>
<path d="M134.18 244.30L132.13 247.80H136.23Z" stroke="#ff4d00" stroke-width="0.6" fill="#ff4d00" fill-opacity="0.12"/>
<path d="M138.11 245.60L136.06 249.10H140.16Z" stroke="#ff4d00" stroke-width="0.6" fill="#ff4d00" fill-opacity="0.12"/>
<path d="M142.04 242.00L139.99 245.50H144.09Z" stroke="#ff4d00" stroke-width="0.6" fill="#ff4d00" fill-opacity="0.12"/>
<path d="M145.97 234.50L143.92 238.00H148.02Z" stroke="#ff4d00" stroke-width="0.6" fill="#ff4d00" fill-opacity="0.12"/>
<path d="M149.90 225.10L147.85 228.60H151.95Z" stroke="#ff4d00" stroke-width="0.6" fill="#ff4d00" fill-opacity="0.12"/>
<path d="M153.83 210.10L151.78 213.60H155.88Z" stroke="#ff4d00" stroke-width="0.6" fill="#ff4d00" fill-opacity="0.12"/>
<path d="M157.76 179.00L155.71 182.50H159.81Z" stroke="#ff4d00" stroke-width="0.6" fill="#ff4d00" fill-opacity="0.12"/>
<path d="M161.68 202.50L159.63 206.00H163.73Z" stroke="#ff4d00" stroke-width="0.6" fill="#ff4d00" fill-opacity="0.12"/>
<path d="M165.61 112.00L163.56 115.50H167.66Z" stroke="#ff4d00" stroke-width="0.6" fill="#ff4d00" fill-opacity="0.12"/>
<path d="M169.54 214.00L167.49 217.50H171.59Z" stroke="#ff4d00" stroke-width="0.6" fill="#ff4d00" fill-opacity="0.12"/>
<path d="M173.47 198.30L171.42 201.80H175.52Z" stroke="#ff4d00" stroke-width="0.6" fill="#ff4d00" fill-opacity="0.12"/>
<path d="M177.40 233.30L175.35 236.80H179.45Z" stroke="#ff4d00" stroke-width="0.6" fill="#ff4d00" fill-opacity="0.12"/>
<path d="M181.33 232.60L179.28 236.10H183.38Z" stroke="#ff4d00" stroke-width="0.6" fill="#ff4d00" fill-opacity="0.12"/>
<path d="M185.26 248.20L183.21 251.70H187.31Z" stroke="#ff4d00" stroke-width="0.6" fill="#ff4d00" fill-opacity="0.12"/>
<path d="M189.19 250.80L187.14 254.30H191.24Z" stroke="#ff4d00" stroke-width="0.6" fill="#ff4d00" fill-opacity="0.12"/>
<path d="M193.12 249.90L191.07 253.40H195.17Z" stroke="#ff4d00" stroke-width="0.6" fill="#ff4d00" fill-opacity="0.12"/>
<path d="M197.05 238.80L195.00 242.30H199.10Z" stroke="#ff4d00" stroke-width="0.6" fill="#ff4d00" fill-opacity="0.12"/>
<path d="M200.98 245.60L198.93 249.10H203.03Z" stroke="#ff4d00" stroke-width="0.6" fill="#ff4d00" fill-opacity="0.12"/>
<path d="M204.91 182.30L202.86 185.80H206.96Z" stroke="#ff4d00" stroke-width="0.6" fill="#ff4d00" fill-opacity="0.12"/>
<path d="M208.84 230.30L206.79 233.80H210.89Z" stroke="#ff4d00" stroke-width="0.6" fill="#ff4d00" fill-opacity="0.12"/>
<path d="M212.77 214.70L210.72 218.20H214.82Z" stroke="#ff4d00" stroke-width="0.6" fill="#ff4d00" fill-opacity="0.12"/>
<path d="M216.69 232.40L214.64 235.90H218.74Z" stroke="#ff4d00" stroke-width="0.6" fill="#ff4d00" fill-opacity="0.12"/>
<path d="M220.62 236.80L218.57 240.30H222.67Z" stroke="#ff4d00" stroke-width="0.6" fill="#ff4d00" fill-opacity="0.12"/>
<path d="M224.55 244.30L222.50 247.80H226.60Z" stroke="#ff4d00" stroke-width="0.6" fill="#ff4d00" fill-opacity="0.12"/>
<path d="M228.48 245.60L226.43 249.10H230.53Z" stroke="#ff4d00" stroke-width="0.6" fill="#ff4d00" fill-opacity="0.12"/>
<path d="M232.41 249.30L230.36 252.80H234.46Z" stroke="#ff4d00" stroke-width="0.6" fill="#ff4d00" fill-opacity="0.12"/>
<path d="M236.34 248.20L234.29 251.70H238.39Z" stroke="#ff4d00" stroke-width="0.6" fill="#ff4d00" fill-opacity="0.12"/>
<path d="M240.27 251.60L238.22 255.10H242.32Z" stroke="#ff4d00" stroke-width="0.6" fill="#ff4d00" fill-opacity="0.12"/>
<path d="M244.20 244.00L242.15 247.50H246.25Z" stroke="#ff4d00" stroke-width="0.6" fill="#ff4d00" fill-opacity="0.12"/>
<path d="M248.13 251.60L246.08 255.10H250.18Z" stroke="#ff4d00" stroke-width="0.6" fill="#ff4d00" fill-opacity="0.12"/>
<path d="M252.06 248.20L250.01 251.70H254.11Z" stroke="#ff4d00" stroke-width="0.6" fill="#ff4d00" fill-opacity="0.12"/>
<path d="M255.99 249.30L253.94 252.80H258.04Z" stroke="#ff4d00" stroke-width="0.6" fill="#ff4d00" fill-opacity="0.12"/>
<path d="M259.92 245.60L257.87 249.10H261.97Z" stroke="#ff4d00" stroke-width="0.6" fill="#ff4d00" fill-opacity="0.12"/>
<path d="M263.85 244.30L261.80 247.80H265.90Z" stroke="#ff4d00" stroke-width="0.6" fill="#ff4d00" fill-opacity="0.12"/>
<path d="M267.78 236.80L265.73 240.30H269.83Z" stroke="#ff4d00" stroke-width="0.6" fill="#ff4d00" fill-opacity="0.12"/>
<path d="M271.71 232.40L269.66 235.90H273.76Z" stroke="#ff4d00" stroke-width="0.6" fill="#ff4d00" fill-opacity="0.12"/>
<path d="M275.63 214.70L273.58 218.20H277.68Z" stroke="#ff4d00" stroke-width="0.6" fill="#ff4d00" fill-opacity="0.12"/>
<path d="M279.56 230.30L277.51 233.80H281.61Z" stroke="#ff4d00" stroke-width="0.6" fill="#ff4d00" fill-opacity="0.12"/>
<path d="M283.49 182.30L281.44 185.80H285.54Z" stroke="#ff4d00" stroke-width="0.6" fill="#ff4d00" fill-opacity="0.12"/>
<path d="M287.42 245.60L285.37 249.10H289.47Z" stroke="#ff4d00" stroke-width="0.6" fill="#ff4d00" fill-opacity="0.12"/>
<path d="M291.35 238.80L289.30 242.30H293.40Z" stroke="#ff4d00" stroke-width="0.6" fill="#ff4d00" fill-opacity="0.12"/>
<path d="M295.28 249.90L293.23 253.40H297.33Z" stroke="#ff4d00" stroke-width="0.6" fill="#ff4d00" fill-opacity="0.12"/>
<path d="M299.21 250.80L297.16 254.30H301.26Z" stroke="#ff4d00" stroke-width="0.6" fill="#ff4d00" fill-opacity="0.12"/>
<path d="M303.14 248.20L301.09 251.70H305.19Z" stroke="#ff4d00" stroke-width="0.6" fill="#ff4d00" fill-opacity="0.12"/>
<path d="M307.07 232.60L305.02 236.10H309.12Z" stroke="#ff4d00" stroke-width="0.6" fill="#ff4d00" fill-opacity="0.12"/>
<path d="M311.00 233.30L308.95 236.80H313.05Z" stroke="#ff4d00" stroke-width="0.6" fill="#ff4d00" fill-opacity="0.12"/>
<path d="M314.93 198.30L312.88 201.80H316.98Z" stroke="#ff4d00" stroke-width="0.6" fill="#ff4d00" fill-opacity="0.12"/>
<path d="M318.86 214.00L316.81 217.50H320.91Z" stroke="#ff4d00" stroke-width="0.6" fill="#ff4d00" fill-opacity="0.12"/>
<path d="M322.79 112.00L320.74 115.50H324.84Z" stroke="#ff4d00" stroke-width="0.6" fill="#ff4d00" fill-opacity="0.12"/>
<path d="M326.72 202.50L324.67 206.00H328.77Z" stroke="#ff4d00" stroke-width="0.6" fill="#ff4d00" fill-opacity="0.12"/>
<path d="M330.64 179.00L328.59 182.50H332.69Z" stroke="#ff4d00" stroke-width="0.6" fill="#ff4d00" fill-opacity="0.12"/>
<path d="M334.57 210.10L332.52 213.60H336.62Z" stroke="#ff4d00" stroke-width="0.6" fill="#ff4d00" fill-opacity="0.12"/>
<path d="M338.50 225.10L336.45 228.60H340.55Z" stroke="#ff4d00" stroke-width="0.6" fill="#ff4d00" fill-opacity="0.12"/>
<path d="M342.43 234.50L340.38 238.00H344.48Z" stroke="#ff4d00" stroke-width="0.6" fill="#ff4d00" fill-opacity="0.12"/>
<path d="M346.36 242.00L344.31 245.50H348.41Z" stroke="#ff4d00" stroke-width="0.6" fill="#ff4d00" fill-opacity="0.12"/>
<path d="M350.29 245.60L348.24 249.10H352.34Z" stroke="#ff4d00" stroke-width="0.6" fill="#ff4d00" fill-opacity="0.12"/>
<path d="M354.22 244.30L352.17 247.80H356.27Z" stroke="#ff4d00" stroke-width="0.6" fill="#ff4d00" fill-opacity="0.12"/>
<path d="M358.15 247.30L356.10 250.80H360.20Z" stroke="#ff4d00" stroke-width="0.6" fill="#ff4d00" fill-opacity="0.12"/>
<path d="M362.08 233.10L360.03 236.60H364.13Z" stroke="#ff4d00" stroke-width="0.6" fill="#ff4d00" fill-opacity="0.12"/>
<path d="M366.01 244.70L363.96 248.20H368.06Z" stroke="#ff4d00" stroke-width="0.6" fill="#ff4d00" fill-opacity="0.12"/>
<path d="M369.94 239.40L367.89 242.90H371.99Z" stroke="#ff4d00" stroke-width="0.6" fill="#ff4d00" fill-opacity="0.12"/>
<path d="M373.87 243.60L371.82 247.10H375.92Z" stroke="#ff4d00" stroke-width="0.6" fill="#ff4d00" fill-opacity="0.12"/>
<path d="M377.80 243.40L375.75 246.90H379.85Z" stroke="#ff4d00" stroke-width="0.6" fill="#ff4d00" fill-opacity="0.12"/>
<path d="M381.73 242.20L379.68 245.70H383.78Z" stroke="#ff4d00" stroke-width="0.6" fill="#ff4d00" fill-opacity="0.12"/>
<path d="M385.65 242.00L383.60 245.50H387.70Z" stroke="#ff4d00" stroke-width="0.6" fill="#ff4d00" fill-opacity="0.12"/>
<path d="M389.58 235.00L387.53 238.50H391.63Z" stroke="#ff4d00" stroke-width="0.6" fill="#ff4d00" fill-opacity="0.12"/>
<path d="M393.51 241.60L391.46 245.10H395.56Z" stroke="#ff4d00" stroke-width="0.6" fill="#ff4d00" fill-opacity="0.12"/>
<path d="M397.44 224.50L395.39 228.00H399.49Z" stroke="#ff4d00" stroke-width="0.6" fill="#ff4d00" fill-opacity="0.12"/>
<path d="M401.37 244.50L399.32 248.00H403.42Z" stroke="#ff4d00" stroke-width="0.6" fill="#ff4d00" fill-opacity="0.12"/>
<path d="M405.30 242.50L403.25 246.00H407.35Z" stroke="#ff4d00" stroke-width="0.6" fill="#ff4d00" fill-opacity="0.12"/>
<path d="M409.23 243.50L407.18 247.00H411.28Z" stroke="#ff4d00" stroke-width="0.6" fill="#ff4d00" fill-opacity="0.12"/>
<path d="M413.16 238.90L411.11 242.40H415.21Z" stroke="#ff4d00" stroke-width="0.6" fill="#ff4d00" fill-opacity="0.12"/>
<path d="M417.09 230.70L415.04 234.20H419.14Z" stroke="#ff4d00" stroke-width="0.6" fill="#ff4d00" fill-opacity="0.12"/>
<path d="M421.02 211.10L418.97 214.60H423.07Z" stroke="#ff4d00" stroke-width="0.6" fill="#ff4d00" fill-opacity="0.12"/>
<path d="M424.95 185.60L422.90 189.10H427.00Z" stroke="#ff4d00" stroke-width="0.6" fill="#ff4d00" fill-opacity="0.12"/>
<path d="M428.88 139.90L426.83 143.40H430.93Z" stroke="#ff4d00" stroke-width="0.6" fill="#ff4d00" fill-opacity="0.12"/>
<path d="M432.81 175.50L430.76 179.00H434.86Z" stroke="#ff4d00" stroke-width="0.6" fill="#ff4d00" fill-opacity="0.12"/>
<path d="M436.74 37.10L434.69 40.60H438.79Z" stroke="#ff4d00" stroke-width="0.6" fill="#ff4d00" fill-opacity="0.12"/>
</g>
<path d="M49.7 287.40h2.25M438.7 287.40h-2.25M49.7 275.93h2.25M438.7 275.93h-2.25M49.7 267.03h2.25M438.7 267.03h-2.25M49.7 259.77h2.25M438.7 259.77h-2.25M49.7 253.62h2.25M438.7 253.62h-2.25M49.7 248.30h2.25M438.7 248.30h-2.25M49.7 243.60h2.25M438.7 243.60h-2.25M49.7 239.40h4.5M438.7 239.40h-4.5M49.7 211.77h2.25M438.7 211.77h-2.25M49.7 195.60h2.25M438.7 195.60h-2.25M49.7 184.13h2.25M438.7 184.13h-2.25M49.7 175.23h2.25M438.7 175.23h-2.25M49.7 167.97h2.25M438.7 167.97h-2.25M49.7 161.82h2.25M438.7 161.82h-2.25M49.7 156.50h2.25M438.7 156.50h-2.25M49.7 151.80h2.25M438.7 151.80h-2.25M49.7 147.60h4.5M438.7 147.60h-4.5M49.7 119.97h2.25M438.7 119.97h-2.25M49.7 103.80h2.25M438.7 103.80h-2.25M49.7 92.33h2.25M438.7 92.33h-2.25M49.7 83.43h2.25M438.7 83.43h-2.25M49.7 76.17h2.25M438.7 76.17h-2.25M49.7 70.02h2.25M438.7 70.02h-2.25M49.7 64.70h2.25M438.7 64.70h-2.25M49.7 60.00h2.25M438.7 60.00h-2.25M49.7 55.80h4.5M438.7 55.80h-4.5M49.7 28.17h2.25M438.7 28.17h-2.25M49.7 12.00h2.25M438.7 12.00h-2.25M49.70 287.4v-4.5M49.70 12.0v4.5M146.95 287.4v-4.5M146.95 12.0v4.5M244.20 287.4v-4.5M244.20 12.0v4.5M341.45 287.4v-4.5M341.45 12.0v4.5M438.70 287.4v-4.5M438.70 12.0v4.5" stroke="#262626" stroke-width="0.85" fill="none"/>
<rect x="49.7" y="12.0" width="389.0" height="275.4" fill="none" stroke="#262626" stroke-width="1.15"/>
<g font-family="Liberation Sans, sans-serif" font-size="10" fill="#111">
<text x="43.7" y="59.70" text-anchor="end">10</text>
<text x="43.7" y="151.50" text-anchor="end">1</text>
<text x="43.7" y="243.30" text-anchor="end">0.1</text>
<text x="50.80" y="301.1" text-anchor="middle">-1</text>
<text x="148.05" y="301.1" text-anchor="middle">-0.5</text>
<text x="245.30" y="301.1" text-anchor="middle">0</text>
<text x="342.55" y="301.1" text-anchor="middle">0.5</text>
<text x="439.80" y="301.1" text-anchor="middle">1</text>
<text x="244.2" y="317" text-anchor="middle">u</text>
<text transform="translate(12.3,150) rotate(-90)" text-anchor="middle">P(u)</text>
<text x="245" y="43.05" text-anchor="end">H = 0.2</text>
<text x="245" y="53.18" text-anchor="end">H = 0.4</text>
<text x="245" y="63.31" text-anchor="end">H = 0.6</text>
<text x="245" y="73.44" text-anchor="end">H = 0.8</text>
<text x="245" y="83.57" text-anchor="end">H = 1.0</text>
<text x="245" y="93.70" text-anchor="end">H = 1.2</text>
<text x="245" y="103.83" text-anchor="end">H = 1.4</text>
</g>
<path d="M251.2 39.50H279.8" stroke="#ff0000" stroke-width="0.58" fill="none"/>
<path d="M263.45 39.50H267.55M265.50 37.45V41.55" stroke="#ff0000" stroke-width="0.6" fill="none"/>
<path d="M251.2 49.63H279.8" stroke="#00ff00" stroke-width="0.58" fill="none" stroke-dasharray="2.6,1.3"/>
<path d="M263.35 47.48L267.65 51.78M263.35 51.78L267.65 47.48" stroke="#00ff00" stroke-width="0.68" fill="none"/>
<path d="M251.2 59.76H279.8" stroke="#0000ff" stroke-width="0.58" fill="none" stroke-dasharray="1.6,1.6"/>
<path d="M263.35 57.61L267.65 61.91M263.35 61.91L267.65 57.61M263.35 59.76H267.65M265.50 57.61V61.91" stroke="#0000ff" stroke-width="0.7" fill="none"/>
<path d="M251.2 69.89H279.8" stroke="#ff00ff" stroke-width="0.58" fill="none" stroke-dasharray="0.7,1.0"/>
<rect x="263.50" y="67.89" width="4.0" height="4.0" stroke="#ff00ff" stroke-width="0.64" fill="none"/>
<path d="M251.2 80.02H279.8" stroke="#00ffff" stroke-width="0.58" fill="none" stroke-dasharray="3.4,1.3,0.7,1.3"/>
<rect x="263.20" y="77.72" width="4.6" height="4.6" fill="#00ffff"/>
<path d="M251.2 90.15H279.8" stroke="#000000" stroke-width="0.58" fill="none" stroke-dasharray="1.4,1.4,1.4,2.8"/>
<circle cx="265.50" cy="90.15" r="2.25" fill="#000000"/>
<path d="M251.2 100.28H279.8" stroke="#ff4d00" stroke-width="0.58" fill="none" stroke-dasharray="1.2,0.8,1.2,0.8,1.2,1.6"/>
<path d="M265.50 98.28L263.45 101.78H267.55Z" stroke="#ff4d00" stroke-width="0.6" fill="#ff4d00" fill-opacity="0.12"/>
</svg>
</body></html>
